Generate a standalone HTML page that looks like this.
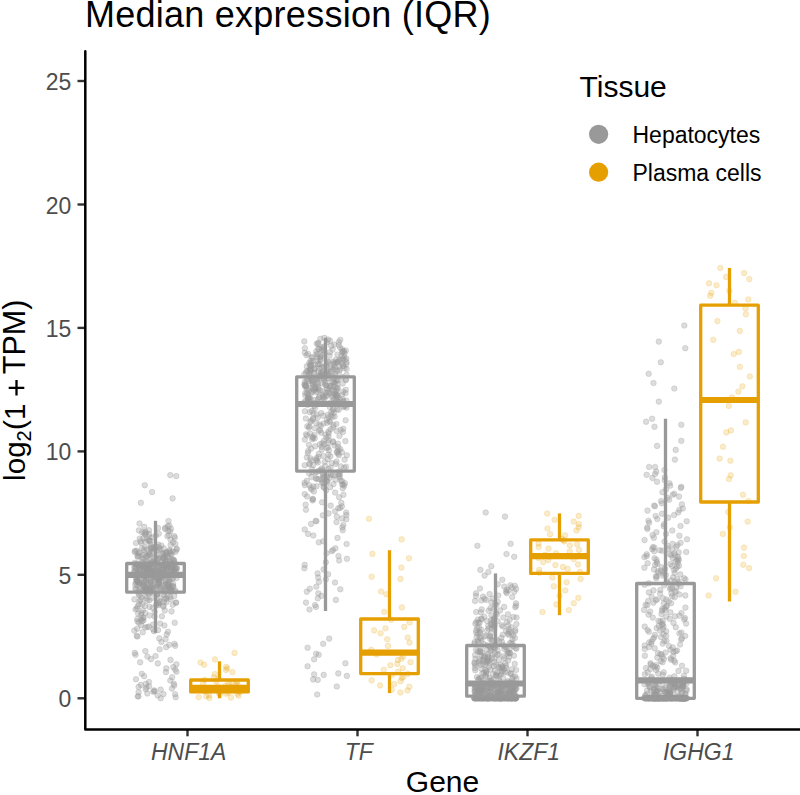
<!DOCTYPE html>
<html><head><meta charset="utf-8"><style>
html,body{margin:0;padding:0;background:#fff;}
svg{display:block;font-family:"Liberation Sans",sans-serif;}
</style></head><body>
<svg width="800" height="795" viewBox="0 0 800 795">
<defs><filter id="bl" x="-5%" y="-5%" width="110%" height="110%"><feGaussianBlur stdDeviation="0.6"/></filter></defs><rect width="800" height="795" fill="#fff"/>
<text x="85" y="27.3" font-size="36" letter-spacing="0.25" fill="#000">Median expression (IQR)</text>
<g fill="#999999" fill-opacity="0.34" stroke="#999999" stroke-opacity="0.34" stroke-width="0.8" filter="url(#bl)"><circle cx="160.7" cy="698.2" r="2.8"/><circle cx="175.7" cy="697.3" r="2.8"/><circle cx="137.8" cy="696.5" r="2.8"/><circle cx="138.4" cy="696.2" r="2.8"/><circle cx="157.7" cy="695.5" r="2.8"/><circle cx="175.1" cy="694.2" r="2.8"/><circle cx="163.5" cy="694.1" r="2.8"/><circle cx="147.3" cy="693.4" r="2.8"/><circle cx="138.6" cy="692.2" r="2.8"/><circle cx="153.3" cy="691.7" r="2.8"/><circle cx="154.7" cy="691.2" r="2.8"/><circle cx="154.1" cy="690.4" r="2.8"/><circle cx="160.6" cy="689.6" r="2.8"/><circle cx="145.7" cy="689.2" r="2.8"/><circle cx="171.9" cy="688.6" r="2.8"/><circle cx="146.4" cy="687.5" r="2.8"/><circle cx="138.6" cy="686.9" r="2.8"/><circle cx="149.0" cy="686.3" r="2.8"/><circle cx="174.2" cy="685.4" r="2.8"/><circle cx="140.9" cy="684.9" r="2.8"/><circle cx="145.9" cy="683.9" r="2.8"/><circle cx="173.8" cy="683.8" r="2.8"/><circle cx="149.0" cy="682.0" r="2.8"/><circle cx="170.3" cy="680.5" r="2.8"/><circle cx="136.0" cy="679.2" r="2.8"/><circle cx="172.2" cy="677.2" r="2.8"/><circle cx="144.2" cy="676.2" r="2.8"/><circle cx="141.8" cy="673.8" r="2.8"/><circle cx="165.9" cy="672.1" r="2.8"/><circle cx="176.5" cy="671.7" r="2.8"/><circle cx="175.2" cy="669.6" r="2.8"/><circle cx="166.3" cy="668.4" r="2.8"/><circle cx="173.3" cy="667.1" r="2.8"/><circle cx="176.4" cy="664.3" r="2.8"/><circle cx="157.8" cy="663.4" r="2.8"/><circle cx="140.2" cy="662.3" r="2.8"/><circle cx="170.5" cy="659.9" r="2.8"/><circle cx="151.0" cy="659.1" r="2.8"/><circle cx="147.4" cy="656.5" r="2.8"/><circle cx="155.5" cy="656.0" r="2.8"/><circle cx="135.5" cy="654.7" r="2.8"/><circle cx="134.8" cy="652.9" r="2.8"/><circle cx="145.4" cy="651.1" r="2.8"/><circle cx="159.6" cy="649.3" r="2.8"/><circle cx="166.2" cy="647.1" r="2.8"/><circle cx="175.2" cy="645.8" r="2.8"/><circle cx="169.2" cy="644.8" r="2.8"/><circle cx="174.5" cy="643.8" r="2.8"/><circle cx="161.4" cy="642.0" r="2.8"/><circle cx="165.6" cy="639.1" r="2.8"/><circle cx="159.3" cy="638.4" r="2.8"/><circle cx="137.5" cy="636.5" r="2.8"/><circle cx="136.7" cy="635.9" r="2.8"/><circle cx="166.7" cy="634.4" r="2.8"/><circle cx="142.7" cy="632.3" r="2.8"/><circle cx="168.0" cy="631.8" r="2.8"/><circle cx="154.0" cy="631.3" r="2.8"/><circle cx="134.3" cy="630.6" r="2.8"/><circle cx="158.1" cy="630.1" r="2.8"/><circle cx="153.1" cy="629.3" r="2.8"/><circle cx="137.2" cy="628.7" r="2.8"/><circle cx="145.2" cy="627.5" r="2.8"/><circle cx="147.2" cy="627.1" r="2.8"/><circle cx="148.9" cy="626.6" r="2.8"/><circle cx="164.4" cy="625.5" r="2.8"/><circle cx="141.2" cy="625.2" r="2.8"/><circle cx="153.1" cy="624.6" r="2.8"/><circle cx="160.1" cy="623.6" r="2.8"/><circle cx="174.7" cy="622.7" r="2.8"/><circle cx="138.9" cy="622.6" r="2.8"/><circle cx="137.4" cy="621.4" r="2.8"/><circle cx="142.2" cy="621.1" r="2.8"/><circle cx="143.5" cy="620.5" r="2.8"/><circle cx="141.0" cy="619.8" r="2.8"/><circle cx="137.3" cy="619.0" r="2.8"/><circle cx="143.0" cy="618.0" r="2.8"/><circle cx="143.6" cy="617.5" r="2.8"/><circle cx="154.6" cy="616.5" r="2.8"/><circle cx="161.9" cy="616.3" r="2.8"/><circle cx="149.6" cy="615.5" r="2.8"/><circle cx="141.2" cy="614.9" r="2.8"/><circle cx="138.1" cy="613.7" r="2.8"/><circle cx="145.3" cy="613.0" r="2.8"/><circle cx="141.3" cy="612.8" r="2.8"/><circle cx="154.7" cy="612.0" r="2.8"/><circle cx="171.5" cy="611.4" r="2.8"/><circle cx="164.8" cy="610.4" r="2.8"/><circle cx="142.7" cy="610.2" r="2.8"/><circle cx="135.5" cy="609.5" r="2.8"/><circle cx="136.9" cy="608.6" r="2.8"/><circle cx="152.7" cy="608.0" r="2.8"/><circle cx="149.6" cy="606.9" r="2.8"/><circle cx="163.3" cy="606.6" r="2.8"/><circle cx="137.6" cy="606.4" r="2.8"/><circle cx="144.9" cy="606.0" r="2.8"/><circle cx="163.5" cy="605.6" r="2.8"/><circle cx="158.4" cy="605.2" r="2.8"/><circle cx="156.2" cy="604.9" r="2.8"/><circle cx="172.8" cy="604.8" r="2.8"/><circle cx="138.9" cy="604.3" r="2.8"/><circle cx="142.4" cy="604.1" r="2.8"/><circle cx="158.3" cy="603.6" r="2.8"/><circle cx="158.3" cy="603.2" r="2.8"/><circle cx="176.1" cy="602.8" r="2.8"/><circle cx="176.0" cy="602.5" r="2.8"/><circle cx="159.3" cy="602.4" r="2.8"/><circle cx="166.6" cy="602.0" r="2.8"/><circle cx="164.0" cy="601.7" r="2.8"/><circle cx="139.7" cy="601.1" r="2.8"/><circle cx="159.9" cy="601.0" r="2.8"/><circle cx="147.1" cy="600.6" r="2.8"/><circle cx="149.4" cy="600.2" r="2.8"/><circle cx="140.7" cy="600.0" r="2.8"/><circle cx="134.4" cy="599.4" r="2.8"/><circle cx="170.7" cy="599.1" r="2.8"/><circle cx="164.8" cy="598.9" r="2.8"/><circle cx="166.3" cy="598.5" r="2.8"/><circle cx="146.4" cy="598.3" r="2.8"/><circle cx="151.9" cy="597.8" r="2.8"/><circle cx="141.6" cy="597.5" r="2.8"/><circle cx="159.9" cy="597.3" r="2.8"/><circle cx="170.1" cy="596.9" r="2.8"/><circle cx="167.5" cy="596.4" r="2.8"/><circle cx="174.2" cy="596.0" r="2.8"/><circle cx="145.2" cy="595.8" r="2.8"/><circle cx="164.2" cy="595.3" r="2.8"/><circle cx="139.4" cy="595.1" r="2.8"/><circle cx="157.1" cy="594.8" r="2.8"/><circle cx="138.7" cy="594.4" r="2.8"/><circle cx="157.2" cy="594.1" r="2.8"/><circle cx="157.3" cy="593.5" r="2.8"/><circle cx="148.9" cy="593.5" r="2.8"/><circle cx="149.0" cy="593.1" r="2.8"/><circle cx="164.6" cy="592.6" r="2.8"/><circle cx="154.7" cy="592.2" r="2.8"/><circle cx="151.5" cy="592.0" r="2.8"/><circle cx="138.8" cy="591.9" r="2.8"/><circle cx="146.1" cy="591.9" r="2.8"/><circle cx="170.4" cy="591.6" r="2.8"/><circle cx="175.8" cy="591.5" r="2.8"/><circle cx="150.0" cy="591.5" r="2.8"/><circle cx="171.4" cy="591.3" r="2.8"/><circle cx="171.6" cy="591.2" r="2.8"/><circle cx="143.4" cy="591.0" r="2.8"/><circle cx="145.8" cy="590.9" r="2.8"/><circle cx="163.9" cy="590.8" r="2.8"/><circle cx="147.2" cy="590.6" r="2.8"/><circle cx="175.1" cy="590.6" r="2.8"/><circle cx="149.7" cy="590.4" r="2.8"/><circle cx="165.4" cy="590.3" r="2.8"/><circle cx="164.4" cy="590.2" r="2.8"/><circle cx="143.2" cy="590.0" r="2.8"/><circle cx="171.2" cy="589.9" r="2.8"/><circle cx="148.1" cy="589.8" r="2.8"/><circle cx="138.7" cy="589.6" r="2.8"/><circle cx="136.2" cy="589.5" r="2.8"/><circle cx="153.4" cy="589.4" r="2.8"/><circle cx="161.2" cy="589.2" r="2.8"/><circle cx="145.7" cy="589.1" r="2.8"/><circle cx="170.2" cy="589.0" r="2.8"/><circle cx="145.5" cy="588.9" r="2.8"/><circle cx="170.4" cy="588.7" r="2.8"/><circle cx="135.4" cy="588.6" r="2.8"/><circle cx="145.3" cy="588.5" r="2.8"/><circle cx="140.9" cy="588.3" r="2.8"/><circle cx="153.3" cy="588.2" r="2.8"/><circle cx="149.1" cy="588.1" r="2.8"/><circle cx="151.0" cy="587.9" r="2.8"/><circle cx="170.6" cy="587.9" r="2.8"/><circle cx="158.9" cy="587.7" r="2.8"/><circle cx="160.0" cy="587.6" r="2.8"/><circle cx="150.8" cy="587.5" r="2.8"/><circle cx="168.7" cy="587.4" r="2.8"/><circle cx="155.6" cy="587.2" r="2.8"/><circle cx="166.1" cy="587.0" r="2.8"/><circle cx="173.3" cy="586.9" r="2.8"/><circle cx="160.3" cy="586.8" r="2.8"/><circle cx="152.7" cy="586.7" r="2.8"/><circle cx="145.3" cy="586.6" r="2.8"/><circle cx="173.2" cy="586.4" r="2.8"/><circle cx="166.9" cy="586.3" r="2.8"/><circle cx="168.4" cy="586.1" r="2.8"/><circle cx="143.5" cy="586.1" r="2.8"/><circle cx="152.8" cy="586.0" r="2.8"/><circle cx="172.0" cy="585.7" r="2.8"/><circle cx="144.6" cy="585.6" r="2.8"/><circle cx="169.0" cy="585.5" r="2.8"/><circle cx="157.2" cy="585.4" r="2.8"/><circle cx="143.4" cy="585.2" r="2.8"/><circle cx="150.1" cy="585.2" r="2.8"/><circle cx="137.3" cy="585.0" r="2.8"/><circle cx="162.9" cy="585.0" r="2.8"/><circle cx="165.3" cy="584.8" r="2.8"/><circle cx="135.2" cy="584.6" r="2.8"/><circle cx="147.0" cy="584.5" r="2.8"/><circle cx="167.1" cy="584.3" r="2.8"/><circle cx="142.6" cy="584.3" r="2.8"/><circle cx="157.1" cy="584.1" r="2.8"/><circle cx="168.7" cy="584.1" r="2.8"/><circle cx="158.5" cy="583.8" r="2.8"/><circle cx="139.3" cy="583.8" r="2.8"/><circle cx="173.1" cy="583.7" r="2.8"/><circle cx="166.1" cy="583.5" r="2.8"/><circle cx="158.3" cy="583.4" r="2.8"/><circle cx="148.3" cy="583.2" r="2.8"/><circle cx="159.0" cy="583.1" r="2.8"/><circle cx="150.8" cy="583.0" r="2.8"/><circle cx="139.1" cy="582.8" r="2.8"/><circle cx="139.3" cy="582.7" r="2.8"/><circle cx="135.9" cy="582.6" r="2.8"/><circle cx="141.3" cy="582.5" r="2.8"/><circle cx="144.6" cy="582.4" r="2.8"/><circle cx="161.3" cy="582.2" r="2.8"/><circle cx="158.9" cy="582.0" r="2.8"/><circle cx="159.4" cy="582.0" r="2.8"/><circle cx="169.3" cy="581.9" r="2.8"/><circle cx="138.1" cy="581.8" r="2.8"/><circle cx="150.7" cy="581.6" r="2.8"/><circle cx="137.4" cy="581.4" r="2.8"/><circle cx="152.0" cy="581.4" r="2.8"/><circle cx="137.4" cy="581.1" r="2.8"/><circle cx="136.9" cy="581.1" r="2.8"/><circle cx="138.5" cy="581.0" r="2.8"/><circle cx="150.8" cy="580.8" r="2.8"/><circle cx="166.8" cy="580.7" r="2.8"/><circle cx="146.1" cy="580.5" r="2.8"/><circle cx="165.9" cy="580.4" r="2.8"/><circle cx="144.0" cy="580.3" r="2.8"/><circle cx="146.4" cy="580.2" r="2.8"/><circle cx="154.3" cy="580.0" r="2.8"/><circle cx="137.2" cy="579.9" r="2.8"/><circle cx="153.3" cy="579.8" r="2.8"/><circle cx="159.1" cy="579.7" r="2.8"/><circle cx="169.5" cy="579.5" r="2.8"/><circle cx="136.4" cy="579.3" r="2.8"/><circle cx="168.4" cy="579.3" r="2.8"/><circle cx="158.5" cy="579.2" r="2.8"/><circle cx="158.9" cy="579.0" r="2.8"/><circle cx="136.2" cy="578.9" r="2.8"/><circle cx="171.8" cy="578.8" r="2.8"/><circle cx="145.9" cy="578.7" r="2.8"/><circle cx="157.5" cy="578.5" r="2.8"/><circle cx="157.2" cy="578.4" r="2.8"/><circle cx="173.1" cy="578.2" r="2.8"/><circle cx="159.9" cy="578.1" r="2.8"/><circle cx="176.6" cy="578.0" r="2.8"/><circle cx="144.0" cy="577.9" r="2.8"/><circle cx="162.5" cy="577.7" r="2.8"/><circle cx="158.8" cy="577.6" r="2.8"/><circle cx="156.1" cy="577.4" r="2.8"/><circle cx="161.0" cy="577.4" r="2.8"/><circle cx="157.7" cy="577.2" r="2.8"/><circle cx="148.5" cy="577.0" r="2.8"/><circle cx="161.6" cy="577.0" r="2.8"/><circle cx="137.6" cy="576.8" r="2.8"/><circle cx="154.6" cy="576.7" r="2.8"/><circle cx="153.5" cy="576.6" r="2.8"/><circle cx="143.2" cy="576.4" r="2.8"/><circle cx="158.4" cy="576.4" r="2.8"/><circle cx="162.8" cy="576.2" r="2.8"/><circle cx="139.4" cy="576.0" r="2.8"/><circle cx="146.8" cy="575.9" r="2.8"/><circle cx="136.7" cy="575.8" r="2.8"/><circle cx="159.7" cy="575.7" r="2.8"/><circle cx="137.5" cy="575.5" r="2.8"/><circle cx="143.9" cy="575.4" r="2.8"/><circle cx="153.3" cy="575.2" r="2.8"/><circle cx="153.4" cy="575.2" r="2.8"/><circle cx="135.4" cy="575.0" r="2.8"/><circle cx="174.7" cy="574.9" r="2.8"/><circle cx="143.9" cy="574.8" r="2.8"/><circle cx="160.2" cy="574.7" r="2.8"/><circle cx="143.6" cy="574.6" r="2.8"/><circle cx="159.6" cy="574.6" r="2.8"/><circle cx="149.2" cy="574.5" r="2.8"/><circle cx="147.7" cy="574.4" r="2.8"/><circle cx="154.4" cy="574.3" r="2.8"/><circle cx="159.2" cy="574.2" r="2.8"/><circle cx="159.7" cy="574.2" r="2.8"/><circle cx="163.6" cy="574.1" r="2.8"/><circle cx="145.5" cy="574.0" r="2.8"/><circle cx="137.9" cy="573.8" r="2.8"/><circle cx="144.9" cy="573.8" r="2.8"/><circle cx="148.0" cy="573.7" r="2.8"/><circle cx="160.1" cy="573.7" r="2.8"/><circle cx="151.8" cy="573.5" r="2.8"/><circle cx="147.4" cy="573.5" r="2.8"/><circle cx="138.2" cy="573.4" r="2.8"/><circle cx="159.7" cy="573.3" r="2.8"/><circle cx="138.7" cy="573.2" r="2.8"/><circle cx="156.2" cy="573.1" r="2.8"/><circle cx="163.6" cy="573.0" r="2.8"/><circle cx="160.8" cy="572.9" r="2.8"/><circle cx="140.9" cy="572.8" r="2.8"/><circle cx="149.3" cy="572.7" r="2.8"/><circle cx="174.5" cy="572.7" r="2.8"/><circle cx="137.9" cy="572.6" r="2.8"/><circle cx="163.2" cy="572.5" r="2.8"/><circle cx="152.8" cy="572.5" r="2.8"/><circle cx="160.4" cy="572.4" r="2.8"/><circle cx="150.9" cy="572.3" r="2.8"/><circle cx="139.3" cy="572.2" r="2.8"/><circle cx="158.2" cy="572.1" r="2.8"/><circle cx="134.3" cy="572.1" r="2.8"/><circle cx="171.2" cy="571.9" r="2.8"/><circle cx="168.3" cy="571.8" r="2.8"/><circle cx="150.1" cy="571.8" r="2.8"/><circle cx="157.1" cy="571.7" r="2.8"/><circle cx="156.7" cy="571.6" r="2.8"/><circle cx="176.1" cy="571.6" r="2.8"/><circle cx="135.9" cy="571.5" r="2.8"/><circle cx="146.8" cy="571.3" r="2.8"/><circle cx="151.5" cy="571.3" r="2.8"/><circle cx="167.9" cy="571.2" r="2.8"/><circle cx="165.4" cy="571.1" r="2.8"/><circle cx="152.2" cy="571.0" r="2.8"/><circle cx="134.5" cy="571.0" r="2.8"/><circle cx="161.9" cy="570.9" r="2.8"/><circle cx="151.5" cy="570.8" r="2.8"/><circle cx="139.0" cy="570.7" r="2.8"/><circle cx="161.1" cy="570.6" r="2.8"/><circle cx="153.1" cy="570.5" r="2.8"/><circle cx="147.2" cy="570.4" r="2.8"/><circle cx="145.6" cy="570.4" r="2.8"/><circle cx="156.4" cy="570.3" r="2.8"/><circle cx="144.6" cy="570.1" r="2.8"/><circle cx="150.9" cy="570.1" r="2.8"/><circle cx="174.5" cy="570.0" r="2.8"/><circle cx="154.5" cy="569.9" r="2.8"/><circle cx="144.9" cy="569.9" r="2.8"/><circle cx="156.4" cy="569.8" r="2.8"/><circle cx="173.4" cy="569.7" r="2.8"/><circle cx="171.2" cy="569.6" r="2.8"/><circle cx="163.1" cy="569.5" r="2.8"/><circle cx="172.7" cy="569.4" r="2.8"/><circle cx="166.5" cy="569.3" r="2.8"/><circle cx="163.2" cy="569.2" r="2.8"/><circle cx="152.4" cy="569.1" r="2.8"/><circle cx="140.4" cy="569.1" r="2.8"/><circle cx="165.5" cy="569.0" r="2.8"/><circle cx="161.3" cy="568.9" r="2.8"/><circle cx="175.6" cy="568.9" r="2.8"/><circle cx="147.8" cy="568.7" r="2.8"/><circle cx="171.7" cy="568.6" r="2.8"/><circle cx="143.4" cy="568.5" r="2.8"/><circle cx="174.7" cy="568.5" r="2.8"/><circle cx="176.8" cy="568.4" r="2.8"/><circle cx="136.0" cy="568.4" r="2.8"/><circle cx="148.0" cy="568.3" r="2.8"/><circle cx="176.9" cy="568.2" r="2.8"/><circle cx="175.6" cy="568.1" r="2.8"/><circle cx="162.8" cy="568.0" r="2.8"/><circle cx="139.8" cy="567.9" r="2.8"/><circle cx="134.3" cy="567.8" r="2.8"/><circle cx="144.7" cy="567.7" r="2.8"/><circle cx="174.6" cy="567.7" r="2.8"/><circle cx="168.6" cy="567.5" r="2.8"/><circle cx="152.4" cy="567.5" r="2.8"/><circle cx="166.7" cy="567.4" r="2.8"/><circle cx="172.8" cy="567.3" r="2.8"/><circle cx="146.9" cy="567.2" r="2.8"/><circle cx="171.6" cy="567.2" r="2.8"/><circle cx="145.6" cy="567.1" r="2.8"/><circle cx="148.1" cy="566.9" r="2.8"/><circle cx="135.9" cy="566.9" r="2.8"/><circle cx="140.9" cy="566.8" r="2.8"/><circle cx="157.7" cy="566.7" r="2.8"/><circle cx="135.0" cy="566.7" r="2.8"/><circle cx="157.5" cy="566.5" r="2.8"/><circle cx="141.3" cy="566.5" r="2.8"/><circle cx="166.2" cy="566.3" r="2.8"/><circle cx="139.5" cy="566.3" r="2.8"/><circle cx="142.9" cy="566.2" r="2.8"/><circle cx="145.6" cy="566.1" r="2.8"/><circle cx="159.1" cy="566.1" r="2.8"/><circle cx="168.8" cy="566.0" r="2.8"/><circle cx="166.4" cy="565.9" r="2.8"/><circle cx="165.9" cy="565.8" r="2.8"/><circle cx="163.3" cy="565.8" r="2.8"/><circle cx="157.4" cy="565.7" r="2.8"/><circle cx="148.7" cy="565.5" r="2.8"/><circle cx="141.7" cy="565.5" r="2.8"/><circle cx="171.1" cy="565.4" r="2.8"/><circle cx="151.6" cy="565.3" r="2.8"/><circle cx="162.0" cy="565.2" r="2.8"/><circle cx="136.9" cy="565.1" r="2.8"/><circle cx="149.5" cy="565.0" r="2.8"/><circle cx="138.3" cy="564.9" r="2.8"/><circle cx="149.2" cy="564.8" r="2.8"/><circle cx="165.5" cy="564.8" r="2.8"/><circle cx="148.7" cy="564.7" r="2.8"/><circle cx="163.3" cy="564.6" r="2.8"/><circle cx="139.3" cy="564.5" r="2.8"/><circle cx="150.6" cy="564.4" r="2.8"/><circle cx="151.6" cy="564.3" r="2.8"/><circle cx="155.9" cy="564.3" r="2.8"/><circle cx="143.8" cy="564.2" r="2.8"/><circle cx="164.0" cy="564.1" r="2.8"/><circle cx="171.9" cy="564.0" r="2.8"/><circle cx="168.9" cy="563.9" r="2.8"/><circle cx="135.3" cy="563.9" r="2.8"/><circle cx="155.0" cy="563.8" r="2.8"/><circle cx="148.8" cy="563.7" r="2.8"/><circle cx="158.6" cy="563.6" r="2.8"/><circle cx="137.6" cy="563.5" r="2.8"/><circle cx="165.4" cy="563.4" r="2.8"/><circle cx="151.9" cy="563.1" r="2.8"/><circle cx="174.6" cy="562.9" r="2.8"/><circle cx="134.8" cy="562.7" r="2.8"/><circle cx="152.0" cy="562.6" r="2.8"/><circle cx="154.9" cy="562.4" r="2.8"/><circle cx="169.7" cy="562.1" r="2.8"/><circle cx="166.5" cy="562.0" r="2.8"/><circle cx="141.8" cy="561.7" r="2.8"/><circle cx="147.2" cy="561.7" r="2.8"/><circle cx="165.6" cy="561.4" r="2.8"/><circle cx="152.0" cy="561.2" r="2.8"/><circle cx="145.3" cy="561.0" r="2.8"/><circle cx="174.0" cy="560.8" r="2.8"/><circle cx="170.3" cy="560.7" r="2.8"/><circle cx="149.3" cy="560.4" r="2.8"/><circle cx="157.6" cy="560.2" r="2.8"/><circle cx="174.0" cy="560.1" r="2.8"/><circle cx="143.3" cy="559.8" r="2.8"/><circle cx="173.1" cy="559.7" r="2.8"/><circle cx="172.0" cy="559.4" r="2.8"/><circle cx="165.2" cy="559.3" r="2.8"/><circle cx="163.5" cy="559.1" r="2.8"/><circle cx="163.5" cy="558.9" r="2.8"/><circle cx="157.4" cy="558.7" r="2.8"/><circle cx="159.0" cy="558.5" r="2.8"/><circle cx="142.5" cy="558.3" r="2.8"/><circle cx="158.2" cy="558.1" r="2.8"/><circle cx="162.9" cy="557.9" r="2.8"/><circle cx="154.9" cy="557.7" r="2.8"/><circle cx="163.2" cy="557.4" r="2.8"/><circle cx="153.7" cy="557.3" r="2.8"/><circle cx="168.5" cy="557.1" r="2.8"/><circle cx="165.0" cy="557.0" r="2.8"/><circle cx="137.8" cy="556.8" r="2.8"/><circle cx="167.1" cy="556.5" r="2.8"/><circle cx="146.2" cy="556.4" r="2.8"/><circle cx="137.5" cy="556.1" r="2.8"/><circle cx="139.2" cy="555.9" r="2.8"/><circle cx="147.9" cy="555.7" r="2.8"/><circle cx="156.6" cy="555.6" r="2.8"/><circle cx="148.2" cy="555.3" r="2.8"/><circle cx="142.7" cy="555.1" r="2.8"/><circle cx="167.1" cy="555.0" r="2.8"/><circle cx="150.1" cy="554.8" r="2.8"/><circle cx="171.6" cy="554.6" r="2.8"/><circle cx="144.5" cy="554.4" r="2.8"/><circle cx="163.7" cy="554.2" r="2.8"/><circle cx="149.4" cy="554.1" r="2.8"/><circle cx="170.5" cy="553.9" r="2.8"/><circle cx="161.8" cy="553.6" r="2.8"/><circle cx="163.2" cy="553.4" r="2.8"/><circle cx="138.0" cy="553.2" r="2.8"/><circle cx="166.3" cy="553.1" r="2.8"/><circle cx="149.2" cy="552.8" r="2.8"/><circle cx="165.8" cy="552.6" r="2.8"/><circle cx="170.3" cy="552.4" r="2.8"/><circle cx="139.3" cy="552.2" r="2.8"/><circle cx="134.7" cy="552.1" r="2.8"/><circle cx="166.6" cy="551.9" r="2.8"/><circle cx="175.6" cy="551.7" r="2.8"/><circle cx="172.7" cy="551.5" r="2.8"/><circle cx="152.7" cy="551.4" r="2.8"/><circle cx="169.8" cy="551.2" r="2.8"/><circle cx="135.0" cy="551.0" r="2.8"/><circle cx="136.5" cy="550.6" r="2.8"/><circle cx="159.0" cy="550.5" r="2.8"/><circle cx="156.7" cy="550.3" r="2.8"/><circle cx="169.5" cy="550.1" r="2.8"/><circle cx="144.0" cy="549.9" r="2.8"/><circle cx="153.9" cy="549.7" r="2.8"/><circle cx="176.5" cy="549.6" r="2.8"/><circle cx="147.0" cy="549.3" r="2.8"/><circle cx="151.4" cy="549.2" r="2.8"/><circle cx="160.1" cy="549.0" r="2.8"/><circle cx="176.8" cy="548.8" r="2.8"/><circle cx="141.9" cy="548.6" r="2.8"/><circle cx="163.7" cy="548.4" r="2.8"/><circle cx="151.8" cy="548.2" r="2.8"/><circle cx="151.2" cy="548.0" r="2.8"/><circle cx="145.0" cy="547.8" r="2.8"/><circle cx="154.0" cy="547.3" r="2.8"/><circle cx="158.7" cy="547.2" r="2.8"/><circle cx="150.9" cy="546.8" r="2.8"/><circle cx="155.7" cy="546.3" r="2.8"/><circle cx="161.3" cy="545.5" r="2.8"/><circle cx="170.6" cy="545.1" r="2.8"/><circle cx="158.1" cy="544.6" r="2.8"/><circle cx="150.5" cy="544.0" r="2.8"/><circle cx="175.3" cy="543.9" r="2.8"/><circle cx="141.4" cy="543.2" r="2.8"/><circle cx="136.0" cy="543.0" r="2.8"/><circle cx="173.1" cy="542.4" r="2.8"/><circle cx="145.4" cy="541.9" r="2.8"/><circle cx="140.5" cy="541.4" r="2.8"/><circle cx="150.6" cy="541.2" r="2.8"/><circle cx="148.7" cy="540.6" r="2.8"/><circle cx="149.3" cy="540.4" r="2.8"/><circle cx="170.6" cy="539.8" r="2.8"/><circle cx="146.5" cy="539.0" r="2.8"/><circle cx="139.7" cy="538.6" r="2.8"/><circle cx="143.3" cy="538.3" r="2.8"/><circle cx="174.8" cy="537.7" r="2.8"/><circle cx="152.4" cy="537.2" r="2.8"/><circle cx="149.5" cy="537.0" r="2.8"/><circle cx="167.4" cy="536.3" r="2.8"/><circle cx="174.2" cy="536.1" r="2.8"/><circle cx="155.9" cy="535.7" r="2.8"/><circle cx="169.0" cy="535.1" r="2.8"/><circle cx="145.4" cy="534.6" r="2.8"/><circle cx="149.1" cy="534.1" r="2.8"/><circle cx="158.8" cy="533.7" r="2.8"/><circle cx="144.2" cy="533.5" r="2.8"/><circle cx="145.8" cy="532.8" r="2.8"/><circle cx="142.1" cy="532.2" r="2.8"/><circle cx="145.3" cy="531.8" r="2.8"/><circle cx="170.1" cy="531.2" r="2.8"/><circle cx="168.2" cy="531.0" r="2.8"/><circle cx="138.9" cy="530.4" r="2.8"/><circle cx="149.0" cy="530.2" r="2.8"/><circle cx="165.1" cy="529.1" r="2.8"/><circle cx="171.0" cy="528.8" r="2.8"/><circle cx="158.1" cy="528.0" r="2.8"/><circle cx="165.2" cy="527.7" r="2.8"/><circle cx="144.2" cy="526.9" r="2.8"/><circle cx="167.6" cy="526.2" r="2.8"/><circle cx="169.3" cy="525.6" r="2.8"/><circle cx="170.3" cy="475.1" r="2.8"/><circle cx="176.3" cy="476.1" r="2.8"/><circle cx="144.8" cy="485.2" r="2.8"/><circle cx="152.1" cy="492.1" r="2.8"/><circle cx="172.6" cy="498.4" r="2.8"/><circle cx="140.8" cy="502.8" r="2.8"/><circle cx="139.5" cy="523.5" r="2.8"/><circle cx="168.5" cy="521.0" r="2.8"/><circle cx="309.5" cy="609.5" r="2.8"/><circle cx="316.0" cy="607.0" r="2.8"/><circle cx="315.0" cy="605.1" r="2.8"/><circle cx="306.0" cy="602.6" r="2.8"/><circle cx="335.9" cy="599.9" r="2.8"/><circle cx="317.8" cy="598.3" r="2.8"/><circle cx="321.5" cy="595.8" r="2.8"/><circle cx="318.3" cy="593.4" r="2.8"/><circle cx="306.8" cy="591.7" r="2.8"/><circle cx="340.3" cy="589.3" r="2.8"/><circle cx="309.8" cy="588.7" r="2.8"/><circle cx="316.3" cy="586.6" r="2.8"/><circle cx="335.0" cy="582.5" r="2.8"/><circle cx="319.0" cy="581.8" r="2.8"/><circle cx="325.8" cy="579.5" r="2.8"/><circle cx="318.2" cy="577.6" r="2.8"/><circle cx="328.1" cy="574.3" r="2.8"/><circle cx="317.6" cy="573.4" r="2.8"/><circle cx="323.6" cy="569.4" r="2.8"/><circle cx="304.4" cy="568.2" r="2.8"/><circle cx="304.7" cy="564.9" r="2.8"/><circle cx="325.8" cy="562.2" r="2.8"/><circle cx="339.1" cy="560.5" r="2.8"/><circle cx="346.9" cy="558.8" r="2.8"/><circle cx="338.5" cy="556.0" r="2.8"/><circle cx="326.6" cy="553.2" r="2.8"/><circle cx="331.7" cy="551.3" r="2.8"/><circle cx="332.9" cy="550.0" r="2.8"/><circle cx="335.4" cy="548.3" r="2.8"/><circle cx="346.6" cy="544.0" r="2.8"/><circle cx="318.8" cy="542.3" r="2.8"/><circle cx="323.2" cy="541.3" r="2.8"/><circle cx="337.5" cy="537.9" r="2.8"/><circle cx="313.3" cy="535.5" r="2.8"/><circle cx="308.1" cy="533.9" r="2.8"/><circle cx="342.7" cy="530.3" r="2.8"/><circle cx="304.7" cy="529.5" r="2.8"/><circle cx="342.4" cy="527.4" r="2.8"/><circle cx="343.3" cy="525.1" r="2.8"/><circle cx="311.1" cy="523.9" r="2.8"/><circle cx="336.5" cy="522.1" r="2.8"/><circle cx="316.4" cy="521.3" r="2.8"/><circle cx="315.7" cy="520.7" r="2.8"/><circle cx="346.3" cy="519.3" r="2.8"/><circle cx="342.1" cy="518.4" r="2.8"/><circle cx="336.9" cy="516.6" r="2.8"/><circle cx="322.8" cy="515.3" r="2.8"/><circle cx="346.4" cy="515.0" r="2.8"/><circle cx="328.5" cy="513.4" r="2.8"/><circle cx="346.1" cy="512.5" r="2.8"/><circle cx="335.0" cy="511.3" r="2.8"/><circle cx="306.0" cy="509.7" r="2.8"/><circle cx="338.3" cy="508.2" r="2.8"/><circle cx="340.0" cy="507.9" r="2.8"/><circle cx="341.9" cy="506.4" r="2.8"/><circle cx="330.7" cy="505.6" r="2.8"/><circle cx="305.6" cy="504.7" r="2.8"/><circle cx="341.3" cy="502.9" r="2.8"/><circle cx="322.1" cy="502.3" r="2.8"/><circle cx="312.5" cy="500.5" r="2.8"/><circle cx="313.0" cy="499.3" r="2.8"/><circle cx="312.7" cy="498.9" r="2.8"/><circle cx="339.1" cy="497.2" r="2.8"/><circle cx="307.1" cy="496.5" r="2.8"/><circle cx="343.5" cy="494.7" r="2.8"/><circle cx="304.7" cy="494.1" r="2.8"/><circle cx="335.1" cy="492.5" r="2.8"/><circle cx="313.9" cy="491.4" r="2.8"/><circle cx="326.1" cy="490.3" r="2.8"/><circle cx="311.6" cy="489.6" r="2.8"/><circle cx="342.7" cy="488.2" r="2.8"/><circle cx="310.7" cy="488.0" r="2.8"/><circle cx="324.1" cy="487.5" r="2.8"/><circle cx="330.2" cy="487.3" r="2.8"/><circle cx="323.5" cy="486.9" r="2.8"/><circle cx="313.3" cy="486.5" r="2.8"/><circle cx="316.5" cy="486.3" r="2.8"/><circle cx="344.2" cy="485.8" r="2.8"/><circle cx="309.4" cy="485.5" r="2.8"/><circle cx="304.8" cy="485.1" r="2.8"/><circle cx="343.1" cy="484.7" r="2.8"/><circle cx="342.1" cy="484.3" r="2.8"/><circle cx="333.5" cy="484.1" r="2.8"/><circle cx="324.3" cy="483.8" r="2.8"/><circle cx="344.9" cy="483.2" r="2.8"/><circle cx="321.8" cy="483.0" r="2.8"/><circle cx="304.6" cy="482.7" r="2.8"/><circle cx="322.7" cy="482.2" r="2.8"/><circle cx="326.8" cy="482.0" r="2.8"/><circle cx="327.6" cy="481.4" r="2.8"/><circle cx="342.2" cy="481.2" r="2.8"/><circle cx="306.9" cy="480.8" r="2.8"/><circle cx="340.7" cy="480.6" r="2.8"/><circle cx="326.5" cy="480.1" r="2.8"/><circle cx="335.5" cy="479.7" r="2.8"/><circle cx="321.8" cy="479.4" r="2.8"/><circle cx="316.7" cy="479.0" r="2.8"/><circle cx="318.4" cy="478.9" r="2.8"/><circle cx="315.8" cy="478.3" r="2.8"/><circle cx="323.5" cy="477.9" r="2.8"/><circle cx="329.7" cy="477.7" r="2.8"/><circle cx="339.7" cy="477.5" r="2.8"/><circle cx="311.5" cy="477.0" r="2.8"/><circle cx="323.4" cy="476.7" r="2.8"/><circle cx="326.9" cy="476.4" r="2.8"/><circle cx="339.2" cy="475.8" r="2.8"/><circle cx="334.5" cy="475.4" r="2.8"/><circle cx="330.8" cy="475.2" r="2.8"/><circle cx="333.0" cy="474.8" r="2.8"/><circle cx="323.3" cy="474.4" r="2.8"/><circle cx="338.7" cy="474.2" r="2.8"/><circle cx="340.0" cy="473.9" r="2.8"/><circle cx="328.3" cy="473.5" r="2.8"/><circle cx="309.0" cy="473.1" r="2.8"/><circle cx="322.3" cy="472.7" r="2.8"/><circle cx="315.4" cy="472.4" r="2.8"/><circle cx="312.2" cy="472.2" r="2.8"/><circle cx="316.8" cy="471.7" r="2.8"/><circle cx="339.2" cy="471.4" r="2.8"/><circle cx="319.0" cy="470.7" r="2.8"/><circle cx="322.5" cy="470.5" r="2.8"/><circle cx="320.5" cy="469.9" r="2.8"/><circle cx="311.9" cy="469.4" r="2.8"/><circle cx="328.6" cy="469.0" r="2.8"/><circle cx="321.9" cy="468.4" r="2.8"/><circle cx="344.3" cy="467.9" r="2.8"/><circle cx="330.6" cy="467.6" r="2.8"/><circle cx="346.1" cy="466.7" r="2.8"/><circle cx="340.9" cy="466.4" r="2.8"/><circle cx="325.1" cy="466.1" r="2.8"/><circle cx="304.7" cy="465.2" r="2.8"/><circle cx="313.2" cy="465.1" r="2.8"/><circle cx="309.1" cy="464.3" r="2.8"/><circle cx="335.7" cy="463.9" r="2.8"/><circle cx="309.9" cy="463.5" r="2.8"/><circle cx="331.7" cy="463.0" r="2.8"/><circle cx="317.9" cy="462.4" r="2.8"/><circle cx="324.7" cy="462.0" r="2.8"/><circle cx="336.5" cy="461.6" r="2.8"/><circle cx="316.8" cy="461.0" r="2.8"/><circle cx="311.4" cy="460.5" r="2.8"/><circle cx="316.4" cy="459.9" r="2.8"/><circle cx="344.6" cy="459.6" r="2.8"/><circle cx="327.8" cy="459.2" r="2.8"/><circle cx="316.3" cy="458.3" r="2.8"/><circle cx="310.3" cy="458.2" r="2.8"/><circle cx="306.9" cy="457.4" r="2.8"/><circle cx="318.4" cy="456.9" r="2.8"/><circle cx="330.4" cy="456.2" r="2.8"/><circle cx="323.6" cy="456.1" r="2.8"/><circle cx="338.9" cy="455.3" r="2.8"/><circle cx="346.8" cy="455.2" r="2.8"/><circle cx="328.5" cy="454.6" r="2.8"/><circle cx="318.8" cy="453.9" r="2.8"/><circle cx="338.2" cy="453.7" r="2.8"/><circle cx="307.8" cy="453.0" r="2.8"/><circle cx="336.7" cy="452.4" r="2.8"/><circle cx="341.9" cy="452.2" r="2.8"/><circle cx="337.4" cy="451.4" r="2.8"/><circle cx="308.2" cy="451.0" r="2.8"/><circle cx="329.0" cy="450.3" r="2.8"/><circle cx="338.5" cy="450.3" r="2.8"/><circle cx="321.7" cy="449.7" r="2.8"/><circle cx="340.3" cy="449.0" r="2.8"/><circle cx="311.1" cy="448.6" r="2.8"/><circle cx="326.7" cy="448.1" r="2.8"/><circle cx="328.0" cy="447.3" r="2.8"/><circle cx="337.9" cy="447.1" r="2.8"/><circle cx="321.7" cy="446.8" r="2.8"/><circle cx="315.1" cy="446.2" r="2.8"/><circle cx="334.6" cy="445.5" r="2.8"/><circle cx="308.9" cy="444.9" r="2.8"/><circle cx="319.8" cy="444.4" r="2.8"/><circle cx="324.1" cy="444.1" r="2.8"/><circle cx="337.9" cy="443.7" r="2.8"/><circle cx="322.3" cy="443.2" r="2.8"/><circle cx="328.2" cy="442.7" r="2.8"/><circle cx="333.2" cy="442.2" r="2.8"/><circle cx="333.0" cy="441.4" r="2.8"/><circle cx="345.4" cy="441.1" r="2.8"/><circle cx="323.9" cy="440.8" r="2.8"/><circle cx="328.6" cy="440.0" r="2.8"/><circle cx="304.8" cy="439.6" r="2.8"/><circle cx="312.2" cy="439.3" r="2.8"/><circle cx="314.7" cy="438.4" r="2.8"/><circle cx="313.1" cy="437.9" r="2.8"/><circle cx="326.3" cy="437.7" r="2.8"/><circle cx="312.6" cy="436.9" r="2.8"/><circle cx="328.5" cy="436.6" r="2.8"/><circle cx="339.5" cy="436.0" r="2.8"/><circle cx="307.1" cy="435.5" r="2.8"/><circle cx="314.4" cy="435.0" r="2.8"/><circle cx="325.4" cy="434.6" r="2.8"/><circle cx="306.0" cy="434.3" r="2.8"/><circle cx="310.2" cy="433.5" r="2.8"/><circle cx="328.7" cy="433.2" r="2.8"/><circle cx="321.2" cy="432.7" r="2.8"/><circle cx="342.9" cy="432.0" r="2.8"/><circle cx="328.5" cy="431.5" r="2.8"/><circle cx="336.6" cy="430.9" r="2.8"/><circle cx="318.9" cy="430.7" r="2.8"/><circle cx="320.2" cy="430.1" r="2.8"/><circle cx="340.7" cy="429.9" r="2.8"/><circle cx="330.5" cy="429.3" r="2.8"/><circle cx="343.3" cy="428.8" r="2.8"/><circle cx="314.9" cy="428.3" r="2.8"/><circle cx="308.9" cy="427.7" r="2.8"/><circle cx="333.1" cy="427.3" r="2.8"/><circle cx="309.4" cy="426.5" r="2.8"/><circle cx="307.3" cy="426.2" r="2.8"/><circle cx="320.8" cy="425.7" r="2.8"/><circle cx="333.5" cy="425.0" r="2.8"/><circle cx="319.5" cy="424.5" r="2.8"/><circle cx="336.4" cy="424.0" r="2.8"/><circle cx="323.6" cy="423.5" r="2.8"/><circle cx="316.3" cy="423.1" r="2.8"/><circle cx="327.0" cy="422.8" r="2.8"/><circle cx="330.0" cy="422.0" r="2.8"/><circle cx="310.4" cy="421.9" r="2.8"/><circle cx="329.4" cy="421.0" r="2.8"/><circle cx="311.2" cy="420.7" r="2.8"/><circle cx="345.6" cy="420.3" r="2.8"/><circle cx="326.9" cy="419.7" r="2.8"/><circle cx="312.8" cy="419.3" r="2.8"/><circle cx="305.8" cy="418.5" r="2.8"/><circle cx="313.2" cy="418.1" r="2.8"/><circle cx="317.7" cy="417.6" r="2.8"/><circle cx="328.7" cy="417.4" r="2.8"/><circle cx="332.5" cy="416.8" r="2.8"/><circle cx="334.6" cy="416.4" r="2.8"/><circle cx="323.0" cy="415.6" r="2.8"/><circle cx="331.1" cy="415.5" r="2.8"/><circle cx="327.8" cy="414.8" r="2.8"/><circle cx="316.7" cy="414.4" r="2.8"/><circle cx="313.4" cy="413.6" r="2.8"/><circle cx="321.2" cy="413.0" r="2.8"/><circle cx="333.7" cy="412.9" r="2.8"/><circle cx="309.8" cy="412.1" r="2.8"/><circle cx="331.3" cy="411.9" r="2.8"/><circle cx="304.9" cy="411.2" r="2.8"/><circle cx="311.9" cy="410.9" r="2.8"/><circle cx="332.8" cy="410.3" r="2.8"/><circle cx="338.7" cy="409.7" r="2.8"/><circle cx="337.0" cy="409.4" r="2.8"/><circle cx="333.4" cy="408.9" r="2.8"/><circle cx="314.9" cy="408.2" r="2.8"/><circle cx="346.5" cy="407.6" r="2.8"/><circle cx="329.8" cy="407.0" r="2.8"/><circle cx="343.1" cy="406.9" r="2.8"/><circle cx="344.3" cy="406.4" r="2.8"/><circle cx="314.3" cy="406.0" r="2.8"/><circle cx="345.7" cy="405.5" r="2.8"/><circle cx="307.5" cy="405.0" r="2.8"/><circle cx="331.4" cy="404.4" r="2.8"/><circle cx="315.0" cy="403.9" r="2.8"/><circle cx="308.0" cy="403.8" r="2.8"/><circle cx="328.5" cy="403.5" r="2.8"/><circle cx="313.1" cy="403.4" r="2.8"/><circle cx="337.8" cy="403.2" r="2.8"/><circle cx="323.8" cy="402.9" r="2.8"/><circle cx="315.6" cy="402.7" r="2.8"/><circle cx="304.5" cy="402.5" r="2.8"/><circle cx="333.8" cy="402.4" r="2.8"/><circle cx="331.4" cy="402.1" r="2.8"/><circle cx="338.6" cy="401.8" r="2.8"/><circle cx="320.5" cy="401.8" r="2.8"/><circle cx="343.3" cy="401.6" r="2.8"/><circle cx="305.0" cy="401.3" r="2.8"/><circle cx="343.5" cy="401.1" r="2.8"/><circle cx="336.9" cy="400.9" r="2.8"/><circle cx="308.4" cy="400.6" r="2.8"/><circle cx="346.4" cy="400.5" r="2.8"/><circle cx="307.9" cy="400.2" r="2.8"/><circle cx="336.3" cy="400.1" r="2.8"/><circle cx="314.5" cy="400.0" r="2.8"/><circle cx="333.7" cy="399.7" r="2.8"/><circle cx="340.0" cy="399.6" r="2.8"/><circle cx="309.1" cy="399.3" r="2.8"/><circle cx="318.0" cy="399.0" r="2.8"/><circle cx="342.5" cy="399.0" r="2.8"/><circle cx="324.5" cy="398.8" r="2.8"/><circle cx="310.6" cy="398.6" r="2.8"/><circle cx="307.7" cy="398.3" r="2.8"/><circle cx="309.3" cy="398.1" r="2.8"/><circle cx="308.5" cy="397.8" r="2.8"/><circle cx="319.3" cy="397.6" r="2.8"/><circle cx="337.4" cy="397.4" r="2.8"/><circle cx="323.5" cy="397.3" r="2.8"/><circle cx="308.2" cy="397.0" r="2.8"/><circle cx="319.2" cy="396.8" r="2.8"/><circle cx="324.8" cy="396.7" r="2.8"/><circle cx="323.3" cy="396.4" r="2.8"/><circle cx="331.6" cy="396.3" r="2.8"/><circle cx="333.3" cy="396.1" r="2.8"/><circle cx="336.2" cy="395.8" r="2.8"/><circle cx="327.0" cy="395.7" r="2.8"/><circle cx="305.3" cy="395.5" r="2.8"/><circle cx="337.1" cy="395.2" r="2.8"/><circle cx="337.7" cy="395.1" r="2.8"/><circle cx="335.4" cy="394.9" r="2.8"/><circle cx="322.8" cy="394.7" r="2.8"/><circle cx="342.1" cy="394.5" r="2.8"/><circle cx="308.1" cy="394.2" r="2.8"/><circle cx="335.8" cy="394.0" r="2.8"/><circle cx="329.6" cy="393.8" r="2.8"/><circle cx="334.1" cy="393.6" r="2.8"/><circle cx="306.9" cy="393.3" r="2.8"/><circle cx="345.6" cy="393.1" r="2.8"/><circle cx="305.3" cy="393.0" r="2.8"/><circle cx="311.6" cy="392.8" r="2.8"/><circle cx="326.2" cy="392.7" r="2.8"/><circle cx="328.6" cy="392.5" r="2.8"/><circle cx="311.7" cy="392.2" r="2.8"/><circle cx="316.4" cy="392.1" r="2.8"/><circle cx="343.4" cy="391.8" r="2.8"/><circle cx="317.8" cy="391.6" r="2.8"/><circle cx="323.1" cy="391.4" r="2.8"/><circle cx="308.8" cy="391.1" r="2.8"/><circle cx="328.5" cy="391.1" r="2.8"/><circle cx="334.1" cy="390.7" r="2.8"/><circle cx="335.9" cy="390.6" r="2.8"/><circle cx="314.0" cy="390.4" r="2.8"/><circle cx="319.9" cy="390.2" r="2.8"/><circle cx="332.1" cy="389.9" r="2.8"/><circle cx="345.8" cy="389.8" r="2.8"/><circle cx="337.1" cy="389.7" r="2.8"/><circle cx="313.4" cy="389.3" r="2.8"/><circle cx="306.8" cy="389.2" r="2.8"/><circle cx="318.1" cy="389.0" r="2.8"/><circle cx="326.8" cy="388.9" r="2.8"/><circle cx="315.7" cy="388.7" r="2.8"/><circle cx="338.0" cy="388.4" r="2.8"/><circle cx="315.0" cy="388.1" r="2.8"/><circle cx="309.3" cy="388.0" r="2.8"/><circle cx="329.9" cy="387.8" r="2.8"/><circle cx="336.7" cy="387.6" r="2.8"/><circle cx="312.8" cy="387.5" r="2.8"/><circle cx="318.4" cy="387.2" r="2.8"/><circle cx="315.2" cy="387.0" r="2.8"/><circle cx="305.2" cy="386.7" r="2.8"/><circle cx="333.4" cy="386.6" r="2.8"/><circle cx="306.2" cy="386.3" r="2.8"/><circle cx="330.3" cy="386.1" r="2.8"/><circle cx="331.0" cy="385.9" r="2.8"/><circle cx="326.8" cy="385.7" r="2.8"/><circle cx="305.8" cy="385.7" r="2.8"/><circle cx="305.6" cy="385.3" r="2.8"/><circle cx="326.1" cy="385.2" r="2.8"/><circle cx="325.1" cy="385.0" r="2.8"/><circle cx="304.7" cy="384.8" r="2.8"/><circle cx="304.5" cy="384.5" r="2.8"/><circle cx="337.3" cy="384.3" r="2.8"/><circle cx="318.0" cy="384.2" r="2.8"/><circle cx="334.8" cy="384.0" r="2.8"/><circle cx="312.5" cy="383.7" r="2.8"/><circle cx="315.4" cy="383.5" r="2.8"/><circle cx="342.6" cy="383.4" r="2.8"/><circle cx="312.5" cy="383.2" r="2.8"/><circle cx="321.6" cy="382.9" r="2.8"/><circle cx="325.4" cy="382.7" r="2.8"/><circle cx="334.6" cy="382.5" r="2.8"/><circle cx="317.8" cy="382.4" r="2.8"/><circle cx="331.9" cy="382.1" r="2.8"/><circle cx="313.6" cy="381.9" r="2.8"/><circle cx="333.3" cy="381.8" r="2.8"/><circle cx="304.9" cy="381.6" r="2.8"/><circle cx="312.0" cy="381.4" r="2.8"/><circle cx="306.6" cy="381.1" r="2.8"/><circle cx="308.4" cy="380.9" r="2.8"/><circle cx="336.2" cy="380.8" r="2.8"/><circle cx="324.0" cy="380.5" r="2.8"/><circle cx="337.7" cy="380.3" r="2.8"/><circle cx="345.9" cy="380.1" r="2.8"/><circle cx="312.0" cy="380.0" r="2.8"/><circle cx="337.1" cy="379.7" r="2.8"/><circle cx="345.8" cy="379.5" r="2.8"/><circle cx="317.3" cy="379.3" r="2.8"/><circle cx="307.3" cy="379.1" r="2.8"/><circle cx="323.9" cy="378.9" r="2.8"/><circle cx="327.3" cy="378.6" r="2.8"/><circle cx="333.6" cy="378.5" r="2.8"/><circle cx="328.5" cy="378.3" r="2.8"/><circle cx="317.0" cy="378.2" r="2.8"/><circle cx="311.0" cy="377.9" r="2.8"/><circle cx="318.6" cy="377.7" r="2.8"/><circle cx="324.2" cy="377.5" r="2.8"/><circle cx="312.0" cy="377.4" r="2.8"/><circle cx="316.8" cy="377.1" r="2.8"/><circle cx="342.0" cy="376.9" r="2.8"/><circle cx="322.2" cy="376.7" r="2.8"/><circle cx="309.4" cy="376.5" r="2.8"/><circle cx="332.6" cy="376.3" r="2.8"/><circle cx="319.3" cy="376.0" r="2.8"/><circle cx="326.1" cy="375.8" r="2.8"/><circle cx="320.9" cy="375.6" r="2.8"/><circle cx="308.9" cy="375.5" r="2.8"/><circle cx="335.7" cy="375.3" r="2.8"/><circle cx="328.5" cy="375.0" r="2.8"/><circle cx="346.5" cy="374.9" r="2.8"/><circle cx="304.2" cy="374.5" r="2.8"/><circle cx="328.8" cy="374.4" r="2.8"/><circle cx="322.3" cy="374.3" r="2.8"/><circle cx="322.7" cy="374.0" r="2.8"/><circle cx="335.1" cy="373.9" r="2.8"/><circle cx="314.4" cy="373.5" r="2.8"/><circle cx="321.2" cy="373.3" r="2.8"/><circle cx="309.7" cy="373.1" r="2.8"/><circle cx="328.4" cy="373.0" r="2.8"/><circle cx="322.8" cy="372.7" r="2.8"/><circle cx="305.8" cy="372.6" r="2.8"/><circle cx="313.9" cy="372.4" r="2.8"/><circle cx="321.0" cy="372.2" r="2.8"/><circle cx="326.9" cy="372.0" r="2.8"/><circle cx="308.0" cy="371.6" r="2.8"/><circle cx="330.6" cy="371.5" r="2.8"/><circle cx="339.2" cy="371.3" r="2.8"/><circle cx="318.3" cy="371.1" r="2.8"/><circle cx="306.9" cy="370.9" r="2.8"/><circle cx="310.3" cy="370.7" r="2.8"/><circle cx="336.8" cy="370.5" r="2.8"/><circle cx="326.9" cy="370.3" r="2.8"/><circle cx="309.9" cy="370.2" r="2.8"/><circle cx="311.2" cy="369.9" r="2.8"/><circle cx="339.8" cy="369.6" r="2.8"/><circle cx="333.2" cy="369.5" r="2.8"/><circle cx="333.9" cy="369.3" r="2.8"/><circle cx="310.0" cy="369.0" r="2.8"/><circle cx="346.6" cy="368.9" r="2.8"/><circle cx="314.9" cy="368.7" r="2.8"/><circle cx="319.2" cy="368.4" r="2.8"/><circle cx="314.1" cy="368.3" r="2.8"/><circle cx="344.5" cy="368.1" r="2.8"/><circle cx="331.2" cy="367.7" r="2.8"/><circle cx="327.8" cy="367.6" r="2.8"/><circle cx="321.8" cy="367.3" r="2.8"/><circle cx="334.8" cy="367.1" r="2.8"/><circle cx="324.1" cy="367.1" r="2.8"/><circle cx="323.9" cy="366.8" r="2.8"/><circle cx="310.5" cy="366.5" r="2.8"/><circle cx="339.4" cy="366.4" r="2.8"/><circle cx="306.8" cy="366.2" r="2.8"/><circle cx="343.0" cy="365.9" r="2.8"/><circle cx="343.4" cy="365.8" r="2.8"/><circle cx="326.5" cy="365.4" r="2.8"/><circle cx="311.0" cy="365.3" r="2.8"/><circle cx="313.4" cy="365.1" r="2.8"/><circle cx="310.0" cy="365.0" r="2.8"/><circle cx="334.1" cy="364.7" r="2.8"/><circle cx="319.6" cy="364.4" r="2.8"/><circle cx="346.2" cy="364.3" r="2.8"/><circle cx="318.7" cy="364.2" r="2.8"/><circle cx="318.2" cy="364.0" r="2.8"/><circle cx="333.1" cy="363.8" r="2.8"/><circle cx="341.8" cy="363.5" r="2.8"/><circle cx="326.6" cy="363.2" r="2.8"/><circle cx="309.3" cy="363.1" r="2.8"/><circle cx="311.3" cy="362.9" r="2.8"/><circle cx="334.7" cy="362.7" r="2.8"/><circle cx="336.9" cy="362.5" r="2.8"/><circle cx="346.6" cy="362.2" r="2.8"/><circle cx="328.6" cy="362.0" r="2.8"/><circle cx="337.6" cy="361.9" r="2.8"/><circle cx="333.0" cy="361.5" r="2.8"/><circle cx="327.6" cy="361.4" r="2.8"/><circle cx="338.8" cy="361.2" r="2.8"/><circle cx="312.8" cy="360.9" r="2.8"/><circle cx="310.6" cy="360.7" r="2.8"/><circle cx="317.3" cy="360.6" r="2.8"/><circle cx="320.6" cy="360.3" r="2.8"/><circle cx="344.8" cy="360.1" r="2.8"/><circle cx="339.5" cy="359.9" r="2.8"/><circle cx="336.0" cy="359.7" r="2.8"/><circle cx="342.3" cy="359.4" r="2.8"/><circle cx="320.5" cy="359.0" r="2.8"/><circle cx="346.3" cy="358.7" r="2.8"/><circle cx="343.0" cy="358.3" r="2.8"/><circle cx="312.0" cy="357.8" r="2.8"/><circle cx="320.2" cy="357.6" r="2.8"/><circle cx="317.2" cy="357.4" r="2.8"/><circle cx="312.3" cy="357.0" r="2.8"/><circle cx="344.3" cy="356.6" r="2.8"/><circle cx="320.8" cy="356.4" r="2.8"/><circle cx="341.4" cy="356.0" r="2.8"/><circle cx="329.6" cy="355.6" r="2.8"/><circle cx="306.6" cy="355.2" r="2.8"/><circle cx="322.6" cy="355.0" r="2.8"/><circle cx="337.5" cy="354.6" r="2.8"/><circle cx="317.7" cy="354.3" r="2.8"/><circle cx="316.6" cy="354.1" r="2.8"/><circle cx="308.0" cy="353.7" r="2.8"/><circle cx="324.4" cy="353.4" r="2.8"/><circle cx="344.5" cy="353.1" r="2.8"/><circle cx="304.8" cy="352.8" r="2.8"/><circle cx="342.1" cy="352.2" r="2.8"/><circle cx="329.8" cy="352.2" r="2.8"/><circle cx="316.1" cy="351.6" r="2.8"/><circle cx="342.6" cy="351.4" r="2.8"/><circle cx="343.9" cy="351.2" r="2.8"/><circle cx="345.8" cy="350.6" r="2.8"/><circle cx="323.9" cy="350.4" r="2.8"/><circle cx="321.8" cy="350.1" r="2.8"/><circle cx="332.6" cy="349.6" r="2.8"/><circle cx="342.2" cy="349.4" r="2.8"/><circle cx="319.0" cy="349.1" r="2.8"/><circle cx="318.3" cy="348.7" r="2.8"/><circle cx="321.6" cy="348.4" r="2.8"/><circle cx="304.9" cy="348.2" r="2.8"/><circle cx="340.1" cy="347.7" r="2.8"/><circle cx="323.7" cy="347.0" r="2.8"/><circle cx="324.1" cy="346.5" r="2.8"/><circle cx="331.2" cy="345.9" r="2.8"/><circle cx="338.8" cy="345.1" r="2.8"/><circle cx="334.3" cy="344.6" r="2.8"/><circle cx="318.3" cy="344.2" r="2.8"/><circle cx="316.7" cy="343.6" r="2.8"/><circle cx="318.3" cy="342.8" r="2.8"/><circle cx="326.9" cy="342.3" r="2.8"/><circle cx="338.9" cy="342.0" r="2.8"/><circle cx="304.3" cy="341.4" r="2.8"/><circle cx="330.0" cy="340.7" r="2.8"/><circle cx="340.3" cy="339.8" r="2.8"/><circle cx="328.1" cy="339.5" r="2.8"/><circle cx="320.4" cy="338.8" r="2.8"/><circle cx="324.4" cy="337.9" r="2.8"/><circle cx="307.6" cy="647.7" r="2.8"/><circle cx="323.2" cy="643.7" r="2.8"/><circle cx="329.2" cy="638.6" r="2.8"/><circle cx="316.1" cy="653.7" r="2.8"/><circle cx="318.7" cy="654.7" r="2.8"/><circle cx="314.1" cy="659.3" r="2.8"/><circle cx="307.6" cy="666.3" r="2.8"/><circle cx="314.1" cy="674.4" r="2.8"/><circle cx="313.1" cy="679.4" r="2.8"/><circle cx="317.7" cy="679.9" r="2.8"/><circle cx="323.7" cy="674.9" r="2.8"/><circle cx="338.3" cy="673.4" r="2.8"/><circle cx="345.4" cy="663.3" r="2.8"/><circle cx="346.9" cy="675.9" r="2.8"/><circle cx="336.8" cy="686.5" r="2.8"/><circle cx="317.2" cy="694.5" r="2.8"/><circle cx="501.8" cy="698.3" r="2.8"/><circle cx="499.4" cy="698.3" r="2.8"/><circle cx="504.9" cy="698.3" r="2.8"/><circle cx="487.3" cy="698.3" r="2.8"/><circle cx="484.1" cy="698.3" r="2.8"/><circle cx="486.4" cy="698.3" r="2.8"/><circle cx="508.0" cy="698.3" r="2.8"/><circle cx="515.6" cy="698.3" r="2.8"/><circle cx="487.7" cy="698.3" r="2.8"/><circle cx="502.1" cy="698.3" r="2.8"/><circle cx="499.0" cy="698.3" r="2.8"/><circle cx="511.9" cy="698.3" r="2.8"/><circle cx="474.6" cy="698.3" r="2.8"/><circle cx="500.7" cy="698.3" r="2.8"/><circle cx="511.4" cy="698.3" r="2.8"/><circle cx="515.5" cy="698.3" r="2.8"/><circle cx="491.9" cy="698.3" r="2.8"/><circle cx="494.7" cy="698.3" r="2.8"/><circle cx="510.1" cy="698.3" r="2.8"/><circle cx="514.2" cy="698.3" r="2.8"/><circle cx="484.1" cy="698.3" r="2.8"/><circle cx="512.2" cy="698.3" r="2.8"/><circle cx="479.2" cy="698.3" r="2.8"/><circle cx="476.2" cy="698.3" r="2.8"/><circle cx="475.4" cy="698.3" r="2.8"/><circle cx="477.2" cy="698.3" r="2.8"/><circle cx="478.1" cy="698.3" r="2.8"/><circle cx="484.1" cy="698.3" r="2.8"/><circle cx="486.4" cy="698.3" r="2.8"/><circle cx="515.7" cy="698.3" r="2.8"/><circle cx="508.5" cy="698.3" r="2.8"/><circle cx="478.5" cy="698.3" r="2.8"/><circle cx="482.3" cy="698.3" r="2.8"/><circle cx="503.8" cy="698.3" r="2.8"/><circle cx="499.8" cy="698.3" r="2.8"/><circle cx="493.2" cy="698.3" r="2.8"/><circle cx="492.3" cy="698.3" r="2.8"/><circle cx="506.1" cy="698.3" r="2.8"/><circle cx="495.1" cy="698.3" r="2.8"/><circle cx="504.9" cy="698.3" r="2.8"/><circle cx="474.5" cy="698.3" r="2.8"/><circle cx="478.3" cy="698.3" r="2.8"/><circle cx="482.0" cy="698.3" r="2.8"/><circle cx="499.5" cy="698.3" r="2.8"/><circle cx="499.0" cy="698.3" r="2.8"/><circle cx="511.4" cy="698.3" r="2.8"/><circle cx="512.1" cy="698.3" r="2.8"/><circle cx="508.7" cy="698.3" r="2.8"/><circle cx="488.2" cy="698.3" r="2.8"/><circle cx="476.5" cy="698.3" r="2.8"/><circle cx="512.1" cy="698.3" r="2.8"/><circle cx="514.0" cy="698.3" r="2.8"/><circle cx="475.1" cy="698.3" r="2.8"/><circle cx="474.2" cy="698.3" r="2.8"/><circle cx="481.6" cy="698.3" r="2.8"/><circle cx="489.5" cy="698.3" r="2.8"/><circle cx="504.4" cy="698.3" r="2.8"/><circle cx="493.6" cy="698.3" r="2.8"/><circle cx="502.4" cy="698.3" r="2.8"/><circle cx="509.0" cy="698.3" r="2.8"/><circle cx="481.6" cy="698.3" r="2.8"/><circle cx="487.3" cy="698.3" r="2.8"/><circle cx="515.7" cy="698.3" r="2.8"/><circle cx="497.3" cy="698.3" r="2.8"/><circle cx="495.2" cy="698.3" r="2.8"/><circle cx="497.7" cy="698.3" r="2.8"/><circle cx="497.5" cy="698.3" r="2.8"/><circle cx="505.2" cy="698.3" r="2.8"/><circle cx="511.4" cy="698.3" r="2.8"/><circle cx="500.8" cy="698.3" r="2.8"/><circle cx="501.1" cy="698.3" r="2.8"/><circle cx="498.9" cy="698.3" r="2.8"/><circle cx="484.3" cy="698.3" r="2.8"/><circle cx="506.9" cy="698.3" r="2.8"/><circle cx="482.5" cy="698.3" r="2.8"/><circle cx="485.1" cy="698.3" r="2.8"/><circle cx="488.6" cy="698.3" r="2.8"/><circle cx="496.6" cy="698.3" r="2.8"/><circle cx="509.2" cy="698.3" r="2.8"/><circle cx="489.3" cy="698.3" r="2.8"/><circle cx="499.9" cy="698.3" r="2.8"/><circle cx="492.7" cy="698.3" r="2.8"/><circle cx="493.2" cy="698.3" r="2.8"/><circle cx="515.6" cy="698.3" r="2.8"/><circle cx="501.9" cy="698.3" r="2.8"/><circle cx="474.8" cy="698.3" r="2.8"/><circle cx="511.2" cy="698.3" r="2.8"/><circle cx="495.5" cy="698.3" r="2.8"/><circle cx="515.4" cy="698.3" r="2.8"/><circle cx="479.4" cy="698.3" r="2.8"/><circle cx="515.3" cy="698.3" r="2.8"/><circle cx="502.2" cy="698.3" r="2.8"/><circle cx="500.7" cy="698.3" r="2.8"/><circle cx="495.4" cy="698.3" r="2.8"/><circle cx="515.6" cy="698.3" r="2.8"/><circle cx="510.0" cy="698.3" r="2.8"/><circle cx="496.5" cy="698.3" r="2.8"/><circle cx="490.1" cy="698.3" r="2.8"/><circle cx="490.7" cy="698.3" r="2.8"/><circle cx="494.5" cy="698.3" r="2.8"/><circle cx="481.7" cy="698.3" r="2.8"/><circle cx="484.0" cy="698.3" r="2.8"/><circle cx="502.4" cy="698.3" r="2.8"/><circle cx="507.2" cy="698.3" r="2.8"/><circle cx="513.0" cy="698.3" r="2.8"/><circle cx="480.8" cy="698.3" r="2.8"/><circle cx="487.3" cy="698.3" r="2.8"/><circle cx="481.9" cy="698.3" r="2.8"/><circle cx="500.9" cy="698.3" r="2.8"/><circle cx="487.0" cy="698.3" r="2.8"/><circle cx="487.8" cy="698.3" r="2.8"/><circle cx="476.9" cy="698.3" r="2.8"/><circle cx="507.2" cy="698.3" r="2.8"/><circle cx="514.1" cy="698.3" r="2.8"/><circle cx="479.9" cy="698.3" r="2.8"/><circle cx="495.1" cy="698.3" r="2.8"/><circle cx="507.8" cy="698.3" r="2.8"/><circle cx="511.4" cy="698.3" r="2.8"/><circle cx="489.1" cy="698.3" r="2.8"/><circle cx="476.6" cy="698.2" r="2.8"/><circle cx="506.9" cy="698.0" r="2.8"/><circle cx="504.5" cy="698.0" r="2.8"/><circle cx="491.0" cy="697.9" r="2.8"/><circle cx="516.3" cy="697.7" r="2.8"/><circle cx="504.8" cy="697.6" r="2.8"/><circle cx="498.5" cy="697.4" r="2.8"/><circle cx="499.4" cy="697.3" r="2.8"/><circle cx="477.4" cy="697.2" r="2.8"/><circle cx="515.3" cy="697.1" r="2.8"/><circle cx="516.6" cy="696.9" r="2.8"/><circle cx="481.1" cy="696.8" r="2.8"/><circle cx="507.1" cy="696.7" r="2.8"/><circle cx="498.9" cy="696.6" r="2.8"/><circle cx="491.0" cy="696.4" r="2.8"/><circle cx="499.4" cy="696.3" r="2.8"/><circle cx="479.2" cy="696.2" r="2.8"/><circle cx="489.1" cy="696.0" r="2.8"/><circle cx="488.3" cy="696.0" r="2.8"/><circle cx="503.3" cy="695.9" r="2.8"/><circle cx="496.7" cy="695.7" r="2.8"/><circle cx="475.1" cy="695.7" r="2.8"/><circle cx="486.4" cy="695.6" r="2.8"/><circle cx="490.5" cy="695.5" r="2.8"/><circle cx="489.6" cy="695.4" r="2.8"/><circle cx="507.8" cy="695.3" r="2.8"/><circle cx="509.6" cy="695.2" r="2.8"/><circle cx="514.9" cy="695.1" r="2.8"/><circle cx="514.5" cy="695.0" r="2.8"/><circle cx="495.0" cy="694.9" r="2.8"/><circle cx="498.0" cy="694.9" r="2.8"/><circle cx="499.9" cy="694.7" r="2.8"/><circle cx="495.8" cy="694.6" r="2.8"/><circle cx="475.6" cy="694.5" r="2.8"/><circle cx="478.8" cy="694.5" r="2.8"/><circle cx="508.2" cy="694.4" r="2.8"/><circle cx="506.4" cy="694.3" r="2.8"/><circle cx="487.4" cy="694.1" r="2.8"/><circle cx="482.5" cy="694.1" r="2.8"/><circle cx="498.5" cy="694.0" r="2.8"/><circle cx="510.5" cy="693.9" r="2.8"/><circle cx="476.4" cy="693.8" r="2.8"/><circle cx="502.0" cy="693.7" r="2.8"/><circle cx="483.7" cy="693.6" r="2.8"/><circle cx="485.0" cy="693.5" r="2.8"/><circle cx="493.0" cy="693.4" r="2.8"/><circle cx="481.0" cy="693.3" r="2.8"/><circle cx="506.0" cy="693.3" r="2.8"/><circle cx="478.1" cy="693.2" r="2.8"/><circle cx="495.3" cy="693.1" r="2.8"/><circle cx="502.7" cy="692.9" r="2.8"/><circle cx="509.7" cy="692.8" r="2.8"/><circle cx="497.8" cy="692.7" r="2.8"/><circle cx="479.6" cy="692.7" r="2.8"/><circle cx="508.8" cy="692.6" r="2.8"/><circle cx="514.4" cy="692.5" r="2.8"/><circle cx="475.3" cy="692.4" r="2.8"/><circle cx="513.3" cy="692.3" r="2.8"/><circle cx="500.7" cy="692.2" r="2.8"/><circle cx="499.7" cy="692.1" r="2.8"/><circle cx="490.7" cy="692.0" r="2.8"/><circle cx="481.0" cy="691.9" r="2.8"/><circle cx="499.8" cy="691.8" r="2.8"/><circle cx="512.1" cy="691.7" r="2.8"/><circle cx="475.0" cy="691.6" r="2.8"/><circle cx="497.9" cy="691.5" r="2.8"/><circle cx="501.4" cy="691.5" r="2.8"/><circle cx="513.5" cy="691.3" r="2.8"/><circle cx="474.6" cy="691.3" r="2.8"/><circle cx="489.9" cy="691.2" r="2.8"/><circle cx="479.5" cy="691.1" r="2.8"/><circle cx="487.4" cy="691.0" r="2.8"/><circle cx="513.0" cy="690.9" r="2.8"/><circle cx="481.7" cy="690.8" r="2.8"/><circle cx="489.4" cy="690.7" r="2.8"/><circle cx="509.3" cy="690.6" r="2.8"/><circle cx="506.2" cy="690.5" r="2.8"/><circle cx="513.4" cy="690.5" r="2.8"/><circle cx="479.3" cy="690.3" r="2.8"/><circle cx="477.1" cy="690.3" r="2.8"/><circle cx="483.5" cy="690.1" r="2.8"/><circle cx="495.3" cy="690.1" r="2.8"/><circle cx="503.2" cy="689.9" r="2.8"/><circle cx="479.0" cy="689.8" r="2.8"/><circle cx="501.0" cy="689.8" r="2.8"/><circle cx="483.6" cy="689.7" r="2.8"/><circle cx="515.4" cy="689.5" r="2.8"/><circle cx="497.9" cy="689.5" r="2.8"/><circle cx="480.0" cy="689.4" r="2.8"/><circle cx="509.8" cy="689.3" r="2.8"/><circle cx="495.2" cy="689.2" r="2.8"/><circle cx="507.1" cy="689.1" r="2.8"/><circle cx="497.3" cy="689.0" r="2.8"/><circle cx="512.1" cy="688.9" r="2.8"/><circle cx="486.1" cy="688.8" r="2.8"/><circle cx="515.7" cy="688.8" r="2.8"/><circle cx="474.8" cy="688.6" r="2.8"/><circle cx="490.2" cy="688.5" r="2.8"/><circle cx="480.8" cy="688.5" r="2.8"/><circle cx="516.5" cy="688.4" r="2.8"/><circle cx="474.8" cy="688.2" r="2.8"/><circle cx="486.4" cy="688.1" r="2.8"/><circle cx="490.7" cy="688.1" r="2.8"/><circle cx="477.2" cy="688.0" r="2.8"/><circle cx="513.5" cy="687.8" r="2.8"/><circle cx="507.1" cy="687.8" r="2.8"/><circle cx="497.1" cy="687.7" r="2.8"/><circle cx="491.5" cy="687.6" r="2.8"/><circle cx="482.4" cy="687.5" r="2.8"/><circle cx="481.1" cy="687.4" r="2.8"/><circle cx="491.5" cy="687.3" r="2.8"/><circle cx="500.4" cy="687.2" r="2.8"/><circle cx="510.7" cy="687.1" r="2.8"/><circle cx="484.5" cy="687.1" r="2.8"/><circle cx="511.1" cy="686.9" r="2.8"/><circle cx="502.4" cy="686.8" r="2.8"/><circle cx="480.9" cy="686.7" r="2.8"/><circle cx="475.4" cy="686.6" r="2.8"/><circle cx="475.1" cy="686.5" r="2.8"/><circle cx="515.5" cy="686.4" r="2.8"/><circle cx="484.6" cy="686.3" r="2.8"/><circle cx="476.8" cy="686.3" r="2.8"/><circle cx="502.3" cy="686.2" r="2.8"/><circle cx="485.9" cy="686.1" r="2.8"/><circle cx="514.6" cy="686.0" r="2.8"/><circle cx="502.5" cy="685.9" r="2.8"/><circle cx="512.1" cy="685.8" r="2.8"/><circle cx="502.0" cy="685.7" r="2.8"/><circle cx="505.5" cy="685.6" r="2.8"/><circle cx="493.8" cy="685.5" r="2.8"/><circle cx="492.3" cy="685.5" r="2.8"/><circle cx="507.6" cy="685.3" r="2.8"/><circle cx="481.8" cy="685.2" r="2.8"/><circle cx="476.8" cy="685.2" r="2.8"/><circle cx="513.2" cy="685.0" r="2.8"/><circle cx="490.5" cy="685.0" r="2.8"/><circle cx="498.0" cy="684.8" r="2.8"/><circle cx="491.0" cy="684.8" r="2.8"/><circle cx="506.0" cy="684.7" r="2.8"/><circle cx="507.4" cy="684.6" r="2.8"/><circle cx="481.9" cy="684.5" r="2.8"/><circle cx="507.2" cy="684.4" r="2.8"/><circle cx="487.7" cy="684.3" r="2.8"/><circle cx="498.5" cy="684.2" r="2.8"/><circle cx="494.8" cy="684.1" r="2.8"/><circle cx="510.4" cy="684.0" r="2.8"/><circle cx="492.0" cy="683.9" r="2.8"/><circle cx="509.5" cy="683.8" r="2.8"/><circle cx="514.5" cy="683.7" r="2.8"/><circle cx="498.7" cy="683.7" r="2.8"/><circle cx="509.1" cy="683.5" r="2.8"/><circle cx="512.1" cy="683.3" r="2.8"/><circle cx="483.8" cy="682.9" r="2.8"/><circle cx="493.4" cy="682.6" r="2.8"/><circle cx="512.8" cy="682.6" r="2.8"/><circle cx="506.7" cy="682.2" r="2.8"/><circle cx="510.4" cy="682.0" r="2.8"/><circle cx="499.9" cy="681.6" r="2.8"/><circle cx="490.3" cy="681.3" r="2.8"/><circle cx="507.8" cy="681.1" r="2.8"/><circle cx="488.8" cy="680.8" r="2.8"/><circle cx="499.0" cy="680.5" r="2.8"/><circle cx="483.1" cy="680.3" r="2.8"/><circle cx="491.2" cy="680.0" r="2.8"/><circle cx="493.3" cy="679.7" r="2.8"/><circle cx="478.9" cy="679.4" r="2.8"/><circle cx="478.4" cy="679.0" r="2.8"/><circle cx="512.1" cy="678.9" r="2.8"/><circle cx="516.4" cy="678.5" r="2.8"/><circle cx="481.0" cy="678.3" r="2.8"/><circle cx="489.7" cy="678.0" r="2.8"/><circle cx="503.0" cy="677.6" r="2.8"/><circle cx="480.2" cy="677.5" r="2.8"/><circle cx="476.9" cy="677.1" r="2.8"/><circle cx="513.0" cy="677.0" r="2.8"/><circle cx="486.1" cy="676.6" r="2.8"/><circle cx="515.1" cy="676.4" r="2.8"/><circle cx="496.4" cy="675.9" r="2.8"/><circle cx="499.2" cy="675.7" r="2.8"/><circle cx="497.2" cy="675.5" r="2.8"/><circle cx="495.8" cy="675.2" r="2.8"/><circle cx="485.5" cy="675.0" r="2.8"/><circle cx="500.9" cy="674.5" r="2.8"/><circle cx="492.9" cy="674.2" r="2.8"/><circle cx="510.5" cy="673.9" r="2.8"/><circle cx="486.4" cy="673.7" r="2.8"/><circle cx="482.3" cy="673.5" r="2.8"/><circle cx="511.0" cy="673.2" r="2.8"/><circle cx="497.0" cy="672.9" r="2.8"/><circle cx="483.9" cy="672.6" r="2.8"/><circle cx="507.4" cy="672.5" r="2.8"/><circle cx="486.3" cy="672.1" r="2.8"/><circle cx="504.9" cy="671.9" r="2.8"/><circle cx="502.2" cy="671.6" r="2.8"/><circle cx="486.6" cy="671.1" r="2.8"/><circle cx="501.6" cy="670.9" r="2.8"/><circle cx="495.0" cy="670.6" r="2.8"/><circle cx="475.3" cy="670.3" r="2.8"/><circle cx="516.1" cy="670.0" r="2.8"/><circle cx="485.2" cy="669.9" r="2.8"/><circle cx="490.5" cy="669.5" r="2.8"/><circle cx="511.9" cy="669.3" r="2.8"/><circle cx="503.7" cy="669.1" r="2.8"/><circle cx="481.3" cy="668.7" r="2.8"/><circle cx="501.6" cy="668.5" r="2.8"/><circle cx="474.9" cy="668.1" r="2.8"/><circle cx="506.2" cy="667.9" r="2.8"/><circle cx="500.0" cy="667.7" r="2.8"/><circle cx="502.5" cy="667.2" r="2.8"/><circle cx="498.4" cy="666.9" r="2.8"/><circle cx="489.2" cy="666.6" r="2.8"/><circle cx="502.2" cy="666.3" r="2.8"/><circle cx="493.8" cy="666.1" r="2.8"/><circle cx="506.2" cy="665.7" r="2.8"/><circle cx="475.5" cy="665.5" r="2.8"/><circle cx="485.4" cy="665.2" r="2.8"/><circle cx="480.7" cy="664.9" r="2.8"/><circle cx="496.0" cy="664.8" r="2.8"/><circle cx="500.7" cy="664.5" r="2.8"/><circle cx="483.5" cy="664.1" r="2.8"/><circle cx="514.7" cy="663.9" r="2.8"/><circle cx="489.9" cy="663.5" r="2.8"/><circle cx="474.6" cy="663.4" r="2.8"/><circle cx="505.2" cy="663.1" r="2.8"/><circle cx="478.8" cy="662.8" r="2.8"/><circle cx="474.6" cy="662.5" r="2.8"/><circle cx="486.4" cy="662.1" r="2.8"/><circle cx="494.2" cy="662.0" r="2.8"/><circle cx="484.4" cy="661.5" r="2.8"/><circle cx="488.2" cy="661.2" r="2.8"/><circle cx="479.7" cy="661.2" r="2.8"/><circle cx="489.3" cy="660.6" r="2.8"/><circle cx="508.2" cy="660.4" r="2.8"/><circle cx="487.4" cy="660.3" r="2.8"/><circle cx="499.0" cy="659.8" r="2.8"/><circle cx="483.0" cy="659.8" r="2.8"/><circle cx="479.4" cy="659.4" r="2.8"/><circle cx="487.7" cy="659.2" r="2.8"/><circle cx="475.4" cy="658.8" r="2.8"/><circle cx="494.4" cy="658.6" r="2.8"/><circle cx="504.3" cy="658.3" r="2.8"/><circle cx="492.1" cy="657.9" r="2.8"/><circle cx="483.7" cy="657.7" r="2.8"/><circle cx="488.0" cy="657.4" r="2.8"/><circle cx="509.2" cy="657.0" r="2.8"/><circle cx="484.4" cy="656.7" r="2.8"/><circle cx="488.3" cy="656.7" r="2.8"/><circle cx="503.5" cy="656.2" r="2.8"/><circle cx="484.7" cy="655.9" r="2.8"/><circle cx="514.0" cy="655.6" r="2.8"/><circle cx="481.4" cy="655.4" r="2.8"/><circle cx="475.1" cy="655.0" r="2.8"/><circle cx="492.4" cy="654.8" r="2.8"/><circle cx="497.2" cy="654.6" r="2.8"/><circle cx="498.5" cy="654.3" r="2.8"/><circle cx="487.9" cy="654.0" r="2.8"/><circle cx="507.6" cy="653.7" r="2.8"/><circle cx="510.3" cy="653.4" r="2.8"/><circle cx="495.0" cy="653.1" r="2.8"/><circle cx="509.3" cy="652.9" r="2.8"/><circle cx="508.6" cy="652.7" r="2.8"/><circle cx="481.7" cy="652.4" r="2.8"/><circle cx="480.0" cy="652.1" r="2.8"/><circle cx="479.7" cy="651.8" r="2.8"/><circle cx="477.7" cy="651.4" r="2.8"/><circle cx="507.4" cy="651.2" r="2.8"/><circle cx="490.4" cy="651.0" r="2.8"/><circle cx="480.1" cy="650.7" r="2.8"/><circle cx="497.6" cy="650.3" r="2.8"/><circle cx="486.7" cy="650.0" r="2.8"/><circle cx="476.0" cy="649.7" r="2.8"/><circle cx="491.8" cy="649.5" r="2.8"/><circle cx="509.5" cy="649.3" r="2.8"/><circle cx="504.3" cy="648.9" r="2.8"/><circle cx="516.4" cy="648.7" r="2.8"/><circle cx="494.4" cy="648.5" r="2.8"/><circle cx="515.4" cy="648.0" r="2.8"/><circle cx="490.4" cy="647.8" r="2.8"/><circle cx="495.1" cy="647.4" r="2.8"/><circle cx="506.1" cy="647.2" r="2.8"/><circle cx="493.7" cy="647.0" r="2.8"/><circle cx="481.2" cy="646.8" r="2.8"/><circle cx="504.5" cy="646.4" r="2.8"/><circle cx="513.4" cy="646.1" r="2.8"/><circle cx="489.3" cy="645.8" r="2.8"/><circle cx="491.9" cy="645.6" r="2.8"/><circle cx="487.3" cy="645.4" r="2.8"/><circle cx="503.6" cy="645.0" r="2.8"/><circle cx="495.2" cy="644.6" r="2.8"/><circle cx="483.9" cy="644.1" r="2.8"/><circle cx="512.6" cy="643.9" r="2.8"/><circle cx="474.6" cy="643.6" r="2.8"/><circle cx="509.9" cy="643.2" r="2.8"/><circle cx="511.2" cy="642.7" r="2.8"/><circle cx="478.1" cy="642.3" r="2.8"/><circle cx="474.7" cy="642.0" r="2.8"/><circle cx="501.8" cy="641.8" r="2.8"/><circle cx="499.1" cy="641.2" r="2.8"/><circle cx="481.4" cy="640.8" r="2.8"/><circle cx="492.6" cy="640.7" r="2.8"/><circle cx="478.1" cy="640.4" r="2.8"/><circle cx="491.8" cy="639.9" r="2.8"/><circle cx="496.6" cy="639.7" r="2.8"/><circle cx="512.5" cy="639.3" r="2.8"/><circle cx="490.1" cy="638.9" r="2.8"/><circle cx="480.8" cy="638.6" r="2.8"/><circle cx="514.9" cy="638.0" r="2.8"/><circle cx="501.4" cy="637.8" r="2.8"/><circle cx="479.8" cy="637.6" r="2.8"/><circle cx="476.6" cy="637.1" r="2.8"/><circle cx="490.4" cy="636.6" r="2.8"/><circle cx="484.4" cy="636.5" r="2.8"/><circle cx="489.8" cy="636.0" r="2.8"/><circle cx="485.7" cy="635.7" r="2.8"/><circle cx="513.2" cy="635.3" r="2.8"/><circle cx="508.9" cy="635.0" r="2.8"/><circle cx="502.8" cy="634.7" r="2.8"/><circle cx="477.9" cy="634.1" r="2.8"/><circle cx="508.0" cy="633.8" r="2.8"/><circle cx="491.1" cy="633.5" r="2.8"/><circle cx="511.4" cy="633.2" r="2.8"/><circle cx="476.2" cy="632.7" r="2.8"/><circle cx="480.3" cy="632.7" r="2.8"/><circle cx="479.6" cy="632.2" r="2.8"/><circle cx="509.1" cy="631.8" r="2.8"/><circle cx="515.0" cy="631.6" r="2.8"/><circle cx="506.1" cy="630.9" r="2.8"/><circle cx="487.2" cy="630.7" r="2.8"/><circle cx="476.2" cy="630.3" r="2.8"/><circle cx="515.4" cy="629.9" r="2.8"/><circle cx="481.3" cy="629.7" r="2.8"/><circle cx="508.9" cy="629.2" r="2.8"/><circle cx="494.3" cy="629.0" r="2.8"/><circle cx="488.6" cy="628.5" r="2.8"/><circle cx="491.6" cy="628.3" r="2.8"/><circle cx="477.3" cy="627.8" r="2.8"/><circle cx="479.0" cy="627.6" r="2.8"/><circle cx="511.3" cy="627.2" r="2.8"/><circle cx="493.5" cy="626.8" r="2.8"/><circle cx="502.9" cy="626.5" r="2.8"/><circle cx="488.3" cy="626.0" r="2.8"/><circle cx="494.7" cy="625.8" r="2.8"/><circle cx="508.2" cy="625.3" r="2.8"/><circle cx="501.8" cy="625.2" r="2.8"/><circle cx="491.1" cy="624.8" r="2.8"/><circle cx="493.8" cy="624.5" r="2.8"/><circle cx="516.4" cy="624.1" r="2.8"/><circle cx="475.4" cy="623.7" r="2.8"/><circle cx="491.3" cy="623.5" r="2.8"/><circle cx="479.6" cy="622.9" r="2.8"/><circle cx="478.5" cy="622.5" r="2.8"/><circle cx="476.3" cy="622.1" r="2.8"/><circle cx="506.9" cy="622.1" r="2.8"/><circle cx="493.7" cy="621.7" r="2.8"/><circle cx="497.6" cy="621.2" r="2.8"/><circle cx="487.0" cy="621.0" r="2.8"/><circle cx="491.0" cy="620.4" r="2.8"/><circle cx="493.4" cy="620.2" r="2.8"/><circle cx="509.6" cy="619.8" r="2.8"/><circle cx="477.9" cy="619.6" r="2.8"/><circle cx="481.7" cy="619.2" r="2.8"/><circle cx="481.3" cy="618.6" r="2.8"/><circle cx="494.0" cy="618.4" r="2.8"/><circle cx="494.5" cy="618.1" r="2.8"/><circle cx="503.3" cy="617.5" r="2.8"/><circle cx="516.5" cy="617.5" r="2.8"/><circle cx="513.4" cy="617.0" r="2.8"/><circle cx="484.3" cy="616.7" r="2.8"/><circle cx="491.5" cy="615.4" r="2.8"/><circle cx="496.8" cy="614.6" r="2.8"/><circle cx="508.0" cy="614.3" r="2.8"/><circle cx="496.0" cy="613.1" r="2.8"/><circle cx="480.9" cy="612.2" r="2.8"/><circle cx="476.2" cy="612.0" r="2.8"/><circle cx="488.6" cy="610.7" r="2.8"/><circle cx="500.1" cy="610.4" r="2.8"/><circle cx="481.7" cy="609.4" r="2.8"/><circle cx="493.6" cy="608.8" r="2.8"/><circle cx="490.5" cy="608.1" r="2.8"/><circle cx="515.3" cy="607.2" r="2.8"/><circle cx="504.1" cy="606.9" r="2.8"/><circle cx="516.0" cy="605.7" r="2.8"/><circle cx="496.3" cy="605.0" r="2.8"/><circle cx="495.1" cy="604.1" r="2.8"/><circle cx="516.0" cy="603.3" r="2.8"/><circle cx="491.5" cy="602.4" r="2.8"/><circle cx="497.8" cy="601.7" r="2.8"/><circle cx="475.0" cy="600.9" r="2.8"/><circle cx="481.3" cy="600.5" r="2.8"/><circle cx="486.3" cy="600.0" r="2.8"/><circle cx="484.5" cy="598.8" r="2.8"/><circle cx="492.6" cy="598.5" r="2.8"/><circle cx="512.2" cy="597.0" r="2.8"/><circle cx="483.0" cy="596.6" r="2.8"/><circle cx="476.0" cy="596.0" r="2.8"/><circle cx="498.2" cy="595.5" r="2.8"/><circle cx="489.6" cy="594.1" r="2.8"/><circle cx="476.0" cy="593.3" r="2.8"/><circle cx="506.7" cy="593.1" r="2.8"/><circle cx="514.3" cy="591.8" r="2.8"/><circle cx="506.0" cy="591.6" r="2.8"/><circle cx="508.4" cy="590.4" r="2.8"/><circle cx="506.6" cy="589.7" r="2.8"/><circle cx="516.1" cy="588.9" r="2.8"/><circle cx="480.0" cy="588.5" r="2.8"/><circle cx="511.7" cy="587.3" r="2.8"/><circle cx="504.2" cy="586.5" r="2.8"/><circle cx="514.8" cy="585.7" r="2.8"/><circle cx="510.4" cy="585.3" r="2.8"/><circle cx="497.7" cy="584.3" r="2.8"/><circle cx="502.3" cy="579.7" r="2.8"/><circle cx="484.6" cy="575.6" r="2.8"/><circle cx="488.4" cy="572.0" r="2.8"/><circle cx="480.4" cy="569.9" r="2.8"/><circle cx="491.3" cy="566.2" r="2.8"/><circle cx="485.7" cy="512.5" r="2.8"/><circle cx="505.0" cy="516.6" r="2.8"/><circle cx="477.4" cy="545.7" r="2.8"/><circle cx="510.6" cy="543.8" r="2.8"/><circle cx="506.5" cy="554.0" r="2.8"/><circle cx="514.2" cy="556.8" r="2.8"/><circle cx="661.9" cy="698.3" r="2.8"/><circle cx="665.4" cy="698.3" r="2.8"/><circle cx="682.5" cy="698.3" r="2.8"/><circle cx="682.4" cy="698.3" r="2.8"/><circle cx="648.1" cy="698.3" r="2.8"/><circle cx="665.7" cy="698.3" r="2.8"/><circle cx="648.2" cy="698.3" r="2.8"/><circle cx="680.4" cy="698.3" r="2.8"/><circle cx="655.6" cy="698.3" r="2.8"/><circle cx="658.2" cy="698.3" r="2.8"/><circle cx="657.7" cy="698.3" r="2.8"/><circle cx="674.9" cy="698.3" r="2.8"/><circle cx="657.9" cy="698.3" r="2.8"/><circle cx="663.0" cy="698.3" r="2.8"/><circle cx="681.6" cy="698.3" r="2.8"/><circle cx="662.9" cy="698.3" r="2.8"/><circle cx="683.5" cy="698.3" r="2.8"/><circle cx="683.4" cy="698.3" r="2.8"/><circle cx="663.5" cy="698.3" r="2.8"/><circle cx="654.0" cy="698.3" r="2.8"/><circle cx="684.4" cy="698.3" r="2.8"/><circle cx="668.0" cy="698.3" r="2.8"/><circle cx="659.3" cy="698.3" r="2.8"/><circle cx="646.6" cy="698.3" r="2.8"/><circle cx="663.9" cy="698.3" r="2.8"/><circle cx="645.5" cy="698.3" r="2.8"/><circle cx="671.0" cy="698.3" r="2.8"/><circle cx="661.0" cy="698.3" r="2.8"/><circle cx="656.5" cy="698.3" r="2.8"/><circle cx="653.4" cy="698.3" r="2.8"/><circle cx="676.5" cy="698.3" r="2.8"/><circle cx="682.7" cy="698.3" r="2.8"/><circle cx="644.4" cy="698.3" r="2.8"/><circle cx="666.8" cy="698.3" r="2.8"/><circle cx="647.4" cy="698.3" r="2.8"/><circle cx="645.5" cy="698.3" r="2.8"/><circle cx="686.3" cy="698.3" r="2.8"/><circle cx="657.5" cy="698.3" r="2.8"/><circle cx="666.9" cy="698.3" r="2.8"/><circle cx="682.8" cy="698.3" r="2.8"/><circle cx="671.6" cy="698.3" r="2.8"/><circle cx="659.0" cy="698.3" r="2.8"/><circle cx="674.2" cy="698.3" r="2.8"/><circle cx="677.7" cy="698.3" r="2.8"/><circle cx="671.8" cy="698.3" r="2.8"/><circle cx="660.6" cy="698.3" r="2.8"/><circle cx="676.5" cy="698.3" r="2.8"/><circle cx="660.1" cy="698.3" r="2.8"/><circle cx="659.6" cy="698.3" r="2.8"/><circle cx="656.1" cy="698.3" r="2.8"/><circle cx="685.9" cy="698.3" r="2.8"/><circle cx="649.1" cy="698.3" r="2.8"/><circle cx="646.3" cy="698.3" r="2.8"/><circle cx="656.6" cy="698.3" r="2.8"/><circle cx="649.3" cy="698.3" r="2.8"/><circle cx="659.8" cy="698.3" r="2.8"/><circle cx="684.4" cy="698.3" r="2.8"/><circle cx="684.8" cy="698.3" r="2.8"/><circle cx="653.8" cy="698.3" r="2.8"/><circle cx="656.7" cy="698.3" r="2.8"/><circle cx="661.3" cy="698.3" r="2.8"/><circle cx="684.8" cy="698.3" r="2.8"/><circle cx="655.4" cy="698.3" r="2.8"/><circle cx="676.8" cy="698.3" r="2.8"/><circle cx="671.5" cy="698.3" r="2.8"/><circle cx="681.8" cy="698.3" r="2.8"/><circle cx="655.9" cy="698.3" r="2.8"/><circle cx="683.9" cy="698.3" r="2.8"/><circle cx="686.9" cy="698.3" r="2.8"/><circle cx="661.0" cy="698.3" r="2.8"/><circle cx="684.2" cy="698.3" r="2.8"/><circle cx="675.5" cy="698.3" r="2.8"/><circle cx="653.7" cy="698.3" r="2.8"/><circle cx="663.0" cy="698.3" r="2.8"/><circle cx="654.8" cy="698.3" r="2.8"/><circle cx="682.8" cy="698.3" r="2.8"/><circle cx="653.9" cy="698.3" r="2.8"/><circle cx="681.7" cy="698.3" r="2.8"/><circle cx="655.9" cy="698.3" r="2.8"/><circle cx="682.3" cy="698.3" r="2.8"/><circle cx="678.1" cy="698.3" r="2.8"/><circle cx="675.5" cy="698.3" r="2.8"/><circle cx="655.6" cy="698.3" r="2.8"/><circle cx="674.8" cy="698.3" r="2.8"/><circle cx="671.0" cy="698.3" r="2.8"/><circle cx="658.9" cy="698.3" r="2.8"/><circle cx="686.4" cy="698.3" r="2.8"/><circle cx="685.1" cy="698.3" r="2.8"/><circle cx="672.1" cy="698.3" r="2.8"/><circle cx="683.0" cy="698.3" r="2.8"/><circle cx="658.4" cy="698.3" r="2.8"/><circle cx="651.3" cy="698.3" r="2.8"/><circle cx="658.4" cy="698.3" r="2.8"/><circle cx="668.4" cy="698.3" r="2.8"/><circle cx="682.8" cy="698.3" r="2.8"/><circle cx="680.1" cy="698.3" r="2.8"/><circle cx="654.4" cy="698.3" r="2.8"/><circle cx="679.2" cy="698.3" r="2.8"/><circle cx="682.0" cy="698.3" r="2.8"/><circle cx="669.1" cy="698.3" r="2.8"/><circle cx="665.3" cy="698.3" r="2.8"/><circle cx="664.2" cy="698.3" r="2.8"/><circle cx="652.5" cy="698.3" r="2.8"/><circle cx="655.1" cy="698.3" r="2.8"/><circle cx="665.8" cy="698.3" r="2.8"/><circle cx="666.0" cy="698.3" r="2.8"/><circle cx="666.8" cy="698.3" r="2.8"/><circle cx="663.2" cy="698.3" r="2.8"/><circle cx="680.5" cy="698.3" r="2.8"/><circle cx="651.2" cy="698.3" r="2.8"/><circle cx="651.7" cy="698.3" r="2.8"/><circle cx="684.1" cy="698.3" r="2.8"/><circle cx="669.2" cy="698.3" r="2.8"/><circle cx="670.6" cy="698.3" r="2.8"/><circle cx="664.3" cy="698.3" r="2.8"/><circle cx="662.4" cy="698.3" r="2.8"/><circle cx="659.1" cy="698.3" r="2.8"/><circle cx="666.9" cy="698.3" r="2.8"/><circle cx="679.6" cy="698.3" r="2.8"/><circle cx="645.9" cy="698.3" r="2.8"/><circle cx="684.5" cy="698.3" r="2.8"/><circle cx="652.2" cy="698.3" r="2.8"/><circle cx="665.0" cy="698.3" r="2.8"/><circle cx="679.6" cy="698.3" r="2.8"/><circle cx="649.7" cy="698.3" r="2.8"/><circle cx="672.0" cy="698.3" r="2.8"/><circle cx="670.1" cy="698.3" r="2.8"/><circle cx="667.8" cy="698.3" r="2.8"/><circle cx="679.7" cy="698.3" r="2.8"/><circle cx="649.6" cy="698.3" r="2.8"/><circle cx="653.5" cy="698.3" r="2.8"/><circle cx="683.2" cy="698.3" r="2.8"/><circle cx="684.8" cy="698.3" r="2.8"/><circle cx="649.3" cy="698.3" r="2.8"/><circle cx="672.8" cy="698.3" r="2.8"/><circle cx="648.2" cy="698.3" r="2.8"/><circle cx="684.2" cy="698.3" r="2.8"/><circle cx="684.6" cy="698.3" r="2.8"/><circle cx="673.7" cy="698.3" r="2.8"/><circle cx="664.6" cy="698.3" r="2.8"/><circle cx="672.0" cy="698.3" r="2.8"/><circle cx="668.1" cy="698.3" r="2.8"/><circle cx="679.5" cy="698.3" r="2.8"/><circle cx="679.8" cy="698.3" r="2.8"/><circle cx="681.0" cy="698.3" r="2.8"/><circle cx="680.0" cy="698.3" r="2.8"/><circle cx="653.5" cy="698.3" r="2.8"/><circle cx="652.8" cy="698.3" r="2.8"/><circle cx="674.0" cy="698.3" r="2.8"/><circle cx="667.7" cy="698.3" r="2.8"/><circle cx="685.6" cy="698.3" r="2.8"/><circle cx="646.4" cy="698.3" r="2.8"/><circle cx="661.4" cy="698.3" r="2.8"/><circle cx="681.3" cy="698.3" r="2.8"/><circle cx="663.3" cy="698.3" r="2.8"/><circle cx="649.8" cy="698.3" r="2.8"/><circle cx="658.1" cy="698.3" r="2.8"/><circle cx="685.4" cy="698.3" r="2.8"/><circle cx="677.2" cy="698.3" r="2.8"/><circle cx="680.1" cy="698.3" r="2.8"/><circle cx="655.2" cy="698.3" r="2.8"/><circle cx="678.5" cy="698.3" r="2.8"/><circle cx="644.2" cy="698.1" r="2.8"/><circle cx="653.4" cy="698.0" r="2.8"/><circle cx="670.9" cy="697.9" r="2.8"/><circle cx="672.3" cy="697.7" r="2.8"/><circle cx="663.6" cy="697.6" r="2.8"/><circle cx="685.2" cy="697.3" r="2.8"/><circle cx="659.9" cy="697.1" r="2.8"/><circle cx="655.7" cy="697.0" r="2.8"/><circle cx="652.8" cy="696.8" r="2.8"/><circle cx="676.1" cy="696.7" r="2.8"/><circle cx="679.1" cy="696.6" r="2.8"/><circle cx="679.5" cy="696.3" r="2.8"/><circle cx="670.7" cy="696.2" r="2.8"/><circle cx="645.5" cy="696.1" r="2.8"/><circle cx="661.8" cy="695.8" r="2.8"/><circle cx="651.2" cy="695.7" r="2.8"/><circle cx="656.2" cy="695.4" r="2.8"/><circle cx="645.2" cy="695.3" r="2.8"/><circle cx="673.8" cy="695.1" r="2.8"/><circle cx="654.8" cy="695.1" r="2.8"/><circle cx="668.2" cy="694.9" r="2.8"/><circle cx="685.4" cy="694.7" r="2.8"/><circle cx="654.1" cy="694.6" r="2.8"/><circle cx="656.3" cy="694.3" r="2.8"/><circle cx="655.0" cy="694.2" r="2.8"/><circle cx="646.8" cy="694.0" r="2.8"/><circle cx="668.4" cy="693.9" r="2.8"/><circle cx="667.7" cy="693.7" r="2.8"/><circle cx="669.8" cy="693.5" r="2.8"/><circle cx="685.4" cy="693.4" r="2.8"/><circle cx="668.8" cy="693.3" r="2.8"/><circle cx="670.2" cy="693.1" r="2.8"/><circle cx="682.3" cy="692.9" r="2.8"/><circle cx="681.6" cy="692.7" r="2.8"/><circle cx="666.5" cy="692.6" r="2.8"/><circle cx="670.1" cy="692.3" r="2.8"/><circle cx="659.8" cy="692.2" r="2.8"/><circle cx="665.4" cy="692.1" r="2.8"/><circle cx="664.8" cy="691.8" r="2.8"/><circle cx="666.8" cy="691.7" r="2.8"/><circle cx="654.1" cy="691.5" r="2.8"/><circle cx="669.8" cy="691.4" r="2.8"/><circle cx="656.2" cy="691.2" r="2.8"/><circle cx="657.4" cy="691.0" r="2.8"/><circle cx="657.2" cy="690.8" r="2.8"/><circle cx="677.7" cy="690.7" r="2.8"/><circle cx="647.0" cy="690.5" r="2.8"/><circle cx="686.8" cy="690.4" r="2.8"/><circle cx="651.1" cy="690.2" r="2.8"/><circle cx="670.6" cy="690.0" r="2.8"/><circle cx="654.0" cy="689.9" r="2.8"/><circle cx="673.4" cy="689.7" r="2.8"/><circle cx="680.8" cy="689.5" r="2.8"/><circle cx="662.7" cy="689.3" r="2.8"/><circle cx="664.2" cy="689.1" r="2.8"/><circle cx="686.3" cy="689.0" r="2.8"/><circle cx="669.3" cy="688.8" r="2.8"/><circle cx="659.7" cy="688.7" r="2.8"/><circle cx="653.9" cy="688.5" r="2.8"/><circle cx="680.5" cy="688.3" r="2.8"/><circle cx="674.1" cy="688.1" r="2.8"/><circle cx="657.4" cy="687.9" r="2.8"/><circle cx="665.8" cy="687.9" r="2.8"/><circle cx="649.9" cy="687.6" r="2.8"/><circle cx="677.4" cy="687.5" r="2.8"/><circle cx="682.7" cy="687.3" r="2.8"/><circle cx="675.3" cy="687.2" r="2.8"/><circle cx="674.6" cy="687.1" r="2.8"/><circle cx="649.6" cy="686.8" r="2.8"/><circle cx="683.2" cy="686.7" r="2.8"/><circle cx="669.6" cy="686.5" r="2.8"/><circle cx="682.5" cy="686.4" r="2.8"/><circle cx="676.1" cy="686.2" r="2.8"/><circle cx="682.2" cy="686.0" r="2.8"/><circle cx="678.8" cy="685.9" r="2.8"/><circle cx="675.4" cy="685.6" r="2.8"/><circle cx="669.8" cy="685.5" r="2.8"/><circle cx="656.0" cy="685.4" r="2.8"/><circle cx="654.8" cy="685.2" r="2.8"/><circle cx="683.4" cy="685.0" r="2.8"/><circle cx="678.3" cy="684.8" r="2.8"/><circle cx="654.9" cy="684.6" r="2.8"/><circle cx="648.5" cy="684.5" r="2.8"/><circle cx="681.7" cy="684.4" r="2.8"/><circle cx="644.6" cy="684.2" r="2.8"/><circle cx="670.8" cy="684.0" r="2.8"/><circle cx="674.4" cy="683.9" r="2.8"/><circle cx="662.3" cy="683.7" r="2.8"/><circle cx="683.3" cy="683.5" r="2.8"/><circle cx="671.8" cy="683.4" r="2.8"/><circle cx="686.7" cy="683.2" r="2.8"/><circle cx="673.7" cy="683.1" r="2.8"/><circle cx="668.0" cy="682.9" r="2.8"/><circle cx="647.5" cy="682.6" r="2.8"/><circle cx="681.9" cy="682.4" r="2.8"/><circle cx="649.0" cy="682.4" r="2.8"/><circle cx="655.9" cy="682.2" r="2.8"/><circle cx="671.9" cy="682.1" r="2.8"/><circle cx="673.4" cy="681.8" r="2.8"/><circle cx="683.8" cy="681.7" r="2.8"/><circle cx="684.7" cy="681.5" r="2.8"/><circle cx="683.6" cy="681.4" r="2.8"/><circle cx="678.0" cy="681.2" r="2.8"/><circle cx="660.4" cy="681.1" r="2.8"/><circle cx="675.1" cy="680.8" r="2.8"/><circle cx="650.7" cy="680.6" r="2.8"/><circle cx="658.0" cy="680.6" r="2.8"/><circle cx="686.8" cy="680.2" r="2.8"/><circle cx="671.5" cy="680.1" r="2.8"/><circle cx="683.9" cy="678.8" r="2.8"/><circle cx="651.1" cy="678.1" r="2.8"/><circle cx="669.7" cy="677.7" r="2.8"/><circle cx="651.9" cy="676.7" r="2.8"/><circle cx="674.4" cy="676.2" r="2.8"/><circle cx="683.9" cy="675.7" r="2.8"/><circle cx="662.8" cy="674.7" r="2.8"/><circle cx="644.8" cy="674.2" r="2.8"/><circle cx="658.3" cy="673.6" r="2.8"/><circle cx="647.7" cy="672.5" r="2.8"/><circle cx="663.7" cy="672.2" r="2.8"/><circle cx="678.5" cy="670.9" r="2.8"/><circle cx="686.2" cy="670.7" r="2.8"/><circle cx="656.0" cy="669.9" r="2.8"/><circle cx="650.4" cy="668.9" r="2.8"/><circle cx="646.0" cy="668.1" r="2.8"/><circle cx="657.2" cy="667.7" r="2.8"/><circle cx="655.1" cy="666.9" r="2.8"/><circle cx="652.9" cy="665.9" r="2.8"/><circle cx="682.0" cy="665.7" r="2.8"/><circle cx="656.3" cy="665.0" r="2.8"/><circle cx="650.8" cy="664.4" r="2.8"/><circle cx="650.5" cy="663.2" r="2.8"/><circle cx="675.2" cy="662.5" r="2.8"/><circle cx="662.5" cy="662.2" r="2.8"/><circle cx="660.7" cy="661.1" r="2.8"/><circle cx="674.3" cy="660.7" r="2.8"/><circle cx="671.2" cy="659.8" r="2.8"/><circle cx="663.9" cy="659.0" r="2.8"/><circle cx="670.6" cy="658.3" r="2.8"/><circle cx="657.3" cy="657.6" r="2.8"/><circle cx="662.6" cy="657.0" r="2.8"/><circle cx="673.1" cy="656.1" r="2.8"/><circle cx="644.9" cy="655.7" r="2.8"/><circle cx="661.6" cy="654.5" r="2.8"/><circle cx="660.4" cy="654.1" r="2.8"/><circle cx="657.9" cy="653.1" r="2.8"/><circle cx="665.5" cy="652.5" r="2.8"/><circle cx="673.6" cy="651.9" r="2.8"/><circle cx="675.8" cy="651.2" r="2.8"/><circle cx="677.1" cy="650.5" r="2.8"/><circle cx="670.7" cy="649.8" r="2.8"/><circle cx="644.7" cy="649.0" r="2.8"/><circle cx="654.6" cy="648.3" r="2.8"/><circle cx="672.7" cy="647.4" r="2.8"/><circle cx="649.0" cy="647.1" r="2.8"/><circle cx="668.9" cy="646.0" r="2.8"/><circle cx="644.7" cy="645.5" r="2.8"/><circle cx="680.1" cy="644.5" r="2.8"/><circle cx="651.2" cy="643.8" r="2.8"/><circle cx="662.7" cy="643.6" r="2.8"/><circle cx="649.2" cy="642.3" r="2.8"/><circle cx="651.6" cy="641.7" r="2.8"/><circle cx="664.3" cy="641.1" r="2.8"/><circle cx="666.4" cy="640.7" r="2.8"/><circle cx="681.1" cy="639.5" r="2.8"/><circle cx="652.9" cy="639.0" r="2.8"/><circle cx="681.9" cy="638.5" r="2.8"/><circle cx="654.2" cy="637.5" r="2.8"/><circle cx="660.9" cy="637.1" r="2.8"/><circle cx="685.2" cy="636.0" r="2.8"/><circle cx="666.1" cy="635.7" r="2.8"/><circle cx="654.9" cy="634.9" r="2.8"/><circle cx="663.5" cy="634.4" r="2.8"/><circle cx="679.4" cy="633.4" r="2.8"/><circle cx="681.4" cy="632.5" r="2.8"/><circle cx="648.9" cy="631.8" r="2.8"/><circle cx="666.2" cy="631.2" r="2.8"/><circle cx="660.1" cy="630.6" r="2.8"/><circle cx="647.6" cy="630.0" r="2.8"/><circle cx="662.9" cy="629.1" r="2.8"/><circle cx="656.7" cy="628.1" r="2.8"/><circle cx="675.8" cy="627.3" r="2.8"/><circle cx="644.7" cy="626.6" r="2.8"/><circle cx="663.5" cy="626.4" r="2.8"/><circle cx="658.8" cy="625.7" r="2.8"/><circle cx="662.1" cy="624.8" r="2.8"/><circle cx="662.6" cy="623.9" r="2.8"/><circle cx="686.1" cy="623.6" r="2.8"/><circle cx="673.5" cy="622.9" r="2.8"/><circle cx="660.5" cy="621.6" r="2.8"/><circle cx="658.5" cy="620.8" r="2.8"/><circle cx="662.8" cy="620.5" r="2.8"/><circle cx="684.2" cy="619.5" r="2.8"/><circle cx="669.7" cy="618.8" r="2.8"/><circle cx="685.0" cy="618.1" r="2.8"/><circle cx="652.8" cy="617.6" r="2.8"/><circle cx="666.4" cy="616.5" r="2.8"/><circle cx="675.0" cy="616.4" r="2.8"/><circle cx="679.5" cy="615.6" r="2.8"/><circle cx="648.5" cy="614.6" r="2.8"/><circle cx="661.5" cy="614.1" r="2.8"/><circle cx="681.5" cy="613.0" r="2.8"/><circle cx="670.4" cy="612.3" r="2.8"/><circle cx="650.1" cy="611.6" r="2.8"/><circle cx="662.1" cy="610.8" r="2.8"/><circle cx="665.6" cy="610.3" r="2.8"/><circle cx="644.1" cy="609.9" r="2.8"/><circle cx="662.1" cy="609.1" r="2.8"/><circle cx="664.4" cy="608.6" r="2.8"/><circle cx="685.4" cy="607.6" r="2.8"/><circle cx="666.3" cy="606.7" r="2.8"/><circle cx="666.7" cy="606.0" r="2.8"/><circle cx="647.3" cy="605.2" r="2.8"/><circle cx="645.6" cy="604.8" r="2.8"/><circle cx="663.8" cy="603.6" r="2.8"/><circle cx="671.1" cy="603.2" r="2.8"/><circle cx="653.4" cy="602.7" r="2.8"/><circle cx="668.7" cy="601.5" r="2.8"/><circle cx="648.1" cy="601.0" r="2.8"/><circle cx="655.8" cy="600.2" r="2.8"/><circle cx="666.4" cy="599.6" r="2.8"/><circle cx="657.2" cy="599.3" r="2.8"/><circle cx="663.1" cy="598.2" r="2.8"/><circle cx="674.6" cy="597.3" r="2.8"/><circle cx="651.7" cy="596.7" r="2.8"/><circle cx="672.2" cy="596.3" r="2.8"/><circle cx="685.3" cy="595.4" r="2.8"/><circle cx="679.5" cy="594.5" r="2.8"/><circle cx="660.1" cy="593.6" r="2.8"/><circle cx="671.5" cy="593.4" r="2.8"/><circle cx="648.9" cy="592.4" r="2.8"/><circle cx="675.0" cy="592.1" r="2.8"/><circle cx="676.2" cy="591.3" r="2.8"/><circle cx="653.5" cy="590.4" r="2.8"/><circle cx="660.3" cy="590.0" r="2.8"/><circle cx="670.0" cy="589.0" r="2.8"/><circle cx="672.3" cy="587.9" r="2.8"/><circle cx="670.7" cy="587.6" r="2.8"/><circle cx="676.2" cy="587.0" r="2.8"/><circle cx="680.6" cy="586.3" r="2.8"/><circle cx="664.2" cy="585.3" r="2.8"/><circle cx="644.6" cy="584.7" r="2.8"/><circle cx="678.7" cy="583.8" r="2.8"/><circle cx="648.7" cy="583.3" r="2.8"/><circle cx="666.8" cy="582.6" r="2.8"/><circle cx="674.7" cy="582.1" r="2.8"/><circle cx="678.7" cy="581.6" r="2.8"/><circle cx="666.8" cy="581.2" r="2.8"/><circle cx="671.2" cy="580.4" r="2.8"/><circle cx="685.5" cy="579.5" r="2.8"/><circle cx="677.1" cy="579.2" r="2.8"/><circle cx="656.2" cy="578.3" r="2.8"/><circle cx="684.2" cy="578.2" r="2.8"/><circle cx="673.2" cy="577.2" r="2.8"/><circle cx="657.0" cy="576.5" r="2.8"/><circle cx="655.9" cy="576.3" r="2.8"/><circle cx="663.0" cy="575.6" r="2.8"/><circle cx="665.9" cy="575.1" r="2.8"/><circle cx="680.3" cy="574.4" r="2.8"/><circle cx="663.6" cy="573.5" r="2.8"/><circle cx="674.6" cy="573.1" r="2.8"/><circle cx="658.4" cy="572.8" r="2.8"/><circle cx="664.2" cy="571.7" r="2.8"/><circle cx="657.9" cy="571.3" r="2.8"/><circle cx="660.9" cy="570.6" r="2.8"/><circle cx="674.1" cy="570.0" r="2.8"/><circle cx="654.0" cy="569.4" r="2.8"/><circle cx="665.0" cy="568.9" r="2.8"/><circle cx="675.9" cy="568.6" r="2.8"/><circle cx="644.4" cy="567.7" r="2.8"/><circle cx="661.6" cy="567.2" r="2.8"/><circle cx="677.2" cy="566.7" r="2.8"/><circle cx="672.2" cy="565.9" r="2.8"/><circle cx="679.0" cy="565.8" r="2.8"/><circle cx="655.1" cy="564.9" r="2.8"/><circle cx="670.4" cy="564.1" r="2.8"/><circle cx="657.3" cy="563.7" r="2.8"/><circle cx="647.6" cy="563.2" r="2.8"/><circle cx="677.8" cy="562.8" r="2.8"/><circle cx="656.8" cy="562.1" r="2.8"/><circle cx="675.5" cy="561.5" r="2.8"/><circle cx="677.2" cy="560.5" r="2.8"/><circle cx="678.7" cy="560.2" r="2.8"/><circle cx="656.5" cy="559.7" r="2.8"/><circle cx="678.5" cy="558.8" r="2.8"/><circle cx="654.5" cy="558.3" r="2.8"/><circle cx="672.6" cy="557.9" r="2.8"/><circle cx="644.4" cy="557.1" r="2.8"/><circle cx="677.8" cy="556.9" r="2.8"/><circle cx="646.7" cy="556.0" r="2.8"/><circle cx="674.9" cy="555.4" r="2.8"/><circle cx="671.2" cy="555.1" r="2.8"/><circle cx="646.7" cy="554.2" r="2.8"/><circle cx="669.1" cy="554.0" r="2.8"/><circle cx="674.4" cy="553.3" r="2.8"/><circle cx="678.7" cy="552.4" r="2.8"/><circle cx="686.2" cy="552.0" r="2.8"/><circle cx="654.3" cy="551.2" r="2.8"/><circle cx="662.3" cy="550.7" r="2.8"/><circle cx="659.8" cy="550.2" r="2.8"/><circle cx="672.5" cy="549.5" r="2.8"/><circle cx="652.2" cy="549.2" r="2.8"/><circle cx="668.1" cy="548.6" r="2.8"/><circle cx="654.3" cy="547.5" r="2.8"/><circle cx="652.9" cy="547.1" r="2.8"/><circle cx="676.4" cy="546.8" r="2.8"/><circle cx="667.6" cy="545.9" r="2.8"/><circle cx="677.5" cy="545.1" r="2.8"/><circle cx="672.5" cy="543.8" r="2.8"/><circle cx="680.6" cy="542.8" r="2.8"/><circle cx="664.5" cy="541.6" r="2.8"/><circle cx="644.5" cy="540.1" r="2.8"/><circle cx="687.0" cy="539.3" r="2.8"/><circle cx="653.9" cy="537.7" r="2.8"/><circle cx="679.4" cy="535.7" r="2.8"/><circle cx="652.6" cy="535.1" r="2.8"/><circle cx="666.0" cy="533.9" r="2.8"/><circle cx="656.4" cy="532.2" r="2.8"/><circle cx="672.3" cy="530.5" r="2.8"/><circle cx="647.4" cy="529.0" r="2.8"/><circle cx="647.1" cy="527.5" r="2.8"/><circle cx="663.8" cy="526.2" r="2.8"/><circle cx="680.5" cy="526.0" r="2.8"/><circle cx="664.0" cy="524.2" r="2.8"/><circle cx="649.1" cy="522.8" r="2.8"/><circle cx="686.7" cy="521.3" r="2.8"/><circle cx="648.5" cy="520.7" r="2.8"/><circle cx="657.3" cy="519.0" r="2.8"/><circle cx="668.3" cy="517.6" r="2.8"/><circle cx="655.6" cy="516.0" r="2.8"/><circle cx="674.1" cy="515.0" r="2.8"/><circle cx="662.0" cy="513.7" r="2.8"/><circle cx="678.2" cy="512.5" r="2.8"/><circle cx="647.5" cy="510.6" r="2.8"/><circle cx="679.4" cy="509.7" r="2.8"/><circle cx="682.8" cy="508.5" r="2.8"/><circle cx="654.9" cy="506.2" r="2.8"/><circle cx="654.2" cy="505.6" r="2.8"/><circle cx="681.9" cy="504.4" r="2.8"/><circle cx="661.8" cy="503.3" r="2.8"/><circle cx="661.1" cy="501.0" r="2.8"/><circle cx="669.1" cy="499.7" r="2.8"/><circle cx="667.6" cy="497.7" r="2.8"/><circle cx="679.0" cy="496.6" r="2.8"/><circle cx="672.8" cy="494.7" r="2.8"/><circle cx="674.3" cy="493.7" r="2.8"/><circle cx="662.5" cy="492.2" r="2.8"/><circle cx="666.1" cy="489.2" r="2.8"/><circle cx="680.8" cy="487.9" r="2.8"/><circle cx="681.3" cy="486.8" r="2.8"/><circle cx="670.3" cy="485.6" r="2.8"/><circle cx="669.4" cy="483.2" r="2.8"/><circle cx="657.0" cy="481.7" r="2.8"/><circle cx="664.7" cy="480.1" r="2.8"/><circle cx="652.4" cy="477.9" r="2.8"/><circle cx="664.9" cy="477.3" r="2.8"/><circle cx="646.6" cy="474.8" r="2.8"/><circle cx="655.1" cy="474.0" r="2.8"/><circle cx="656.3" cy="471.6" r="2.8"/><circle cx="664.4" cy="470.0" r="2.8"/><circle cx="684.3" cy="325.5" r="2.8"/><circle cx="658.8" cy="341.6" r="2.8"/><circle cx="685.3" cy="348.2" r="2.8"/><circle cx="660.8" cy="362.3" r="2.8"/><circle cx="648.7" cy="373.8" r="2.8"/><circle cx="653.5" cy="383.0" r="2.8"/><circle cx="674.3" cy="388.5" r="2.8"/><circle cx="658.8" cy="401.6" r="2.8"/><circle cx="646.1" cy="421.7" r="2.8"/><circle cx="652.1" cy="418.7" r="2.8"/><circle cx="654.5" cy="426.7" r="2.8"/><circle cx="681.3" cy="424.7" r="2.8"/><circle cx="657.1" cy="445.9" r="2.8"/><circle cx="681.3" cy="440.8" r="2.8"/><circle cx="675.7" cy="449.9" r="2.8"/><circle cx="674.9" cy="459.6" r="2.8"/><circle cx="649.1" cy="467.0" r="2.8"/><circle cx="655.1" cy="467.0" r="2.8"/></g>
<g fill="#E69F00" fill-opacity="0.21" stroke="#E69F00" stroke-opacity="0.21" stroke-width="0.8" filter="url(#bl)"><circle cx="209.4" cy="698.1" r="2.8"/><circle cx="231.0" cy="697.6" r="2.8"/><circle cx="198.7" cy="697.1" r="2.8"/><circle cx="206.2" cy="696.2" r="2.8"/><circle cx="238.6" cy="695.7" r="2.8"/><circle cx="208.8" cy="695.4" r="2.8"/><circle cx="220.0" cy="694.6" r="2.8"/><circle cx="237.4" cy="693.8" r="2.8"/><circle cx="226.1" cy="693.7" r="2.8"/><circle cx="219.0" cy="693.1" r="2.8"/><circle cx="228.2" cy="692.6" r="2.8"/><circle cx="240.1" cy="691.8" r="2.8"/><circle cx="238.5" cy="691.5" r="2.8"/><circle cx="205.8" cy="691.0" r="2.8"/><circle cx="204.0" cy="690.9" r="2.8"/><circle cx="210.4" cy="690.5" r="2.8"/><circle cx="204.2" cy="689.9" r="2.8"/><circle cx="230.9" cy="689.9" r="2.8"/><circle cx="233.9" cy="689.4" r="2.8"/><circle cx="204.1" cy="689.0" r="2.8"/><circle cx="201.1" cy="688.8" r="2.8"/><circle cx="211.9" cy="688.4" r="2.8"/><circle cx="227.5" cy="687.9" r="2.8"/><circle cx="231.1" cy="687.1" r="2.8"/><circle cx="217.8" cy="686.4" r="2.8"/><circle cx="225.5" cy="685.7" r="2.8"/><circle cx="237.5" cy="685.0" r="2.8"/><circle cx="235.8" cy="684.7" r="2.8"/><circle cx="203.1" cy="683.6" r="2.8"/><circle cx="228.7" cy="683.0" r="2.8"/><circle cx="231.4" cy="682.5" r="2.8"/><circle cx="237.0" cy="681.7" r="2.8"/><circle cx="216.0" cy="681.1" r="2.8"/><circle cx="204.7" cy="679.8" r="2.8"/><circle cx="218.4" cy="679.0" r="2.8"/><circle cx="213.9" cy="677.2" r="2.8"/><circle cx="214.9" cy="674.0" r="2.8"/><circle cx="232.5" cy="672.1" r="2.8"/><circle cx="226.0" cy="669.9" r="2.8"/><circle cx="227.2" cy="668.3" r="2.8"/><circle cx="226.1" cy="666.8" r="2.8"/><circle cx="204.1" cy="664.7" r="2.8"/><circle cx="200.5" cy="662.5" r="2.8"/><circle cx="215.0" cy="659.4" r="2.8"/><circle cx="234.5" cy="652.9" r="2.8"/><circle cx="400.4" cy="692.5" r="2.8"/><circle cx="407.4" cy="690.5" r="2.8"/><circle cx="391.7" cy="689.7" r="2.8"/><circle cx="409.4" cy="686.7" r="2.8"/><circle cx="380.1" cy="685.4" r="2.8"/><circle cx="394.2" cy="684.1" r="2.8"/><circle cx="400.6" cy="681.2" r="2.8"/><circle cx="371.6" cy="680.4" r="2.8"/><circle cx="401.8" cy="678.0" r="2.8"/><circle cx="403.2" cy="677.0" r="2.8"/><circle cx="392.2" cy="674.8" r="2.8"/><circle cx="407.7" cy="673.7" r="2.8"/><circle cx="398.1" cy="671.7" r="2.8"/><circle cx="383.8" cy="669.7" r="2.8"/><circle cx="402.7" cy="668.2" r="2.8"/><circle cx="390.3" cy="665.2" r="2.8"/><circle cx="397.4" cy="663.9" r="2.8"/><circle cx="410.5" cy="662.2" r="2.8"/><circle cx="397.9" cy="659.9" r="2.8"/><circle cx="401.4" cy="658.7" r="2.8"/><circle cx="403.1" cy="656.5" r="2.8"/><circle cx="376.6" cy="654.4" r="2.8"/><circle cx="369.6" cy="652.3" r="2.8"/><circle cx="371.3" cy="649.9" r="2.8"/><circle cx="388.0" cy="645.9" r="2.8"/><circle cx="409.5" cy="642.6" r="2.8"/><circle cx="387.2" cy="639.3" r="2.8"/><circle cx="407.7" cy="637.5" r="2.8"/><circle cx="380.6" cy="633.3" r="2.8"/><circle cx="374.1" cy="630.4" r="2.8"/><circle cx="385.5" cy="628.3" r="2.8"/><circle cx="404.3" cy="626.9" r="2.8"/><circle cx="409.6" cy="622.4" r="2.8"/><circle cx="391.2" cy="619.7" r="2.8"/><circle cx="384.3" cy="611.8" r="2.8"/><circle cx="401.9" cy="607.4" r="2.8"/><circle cx="386.3" cy="594.2" r="2.8"/><circle cx="381.0" cy="591.5" r="2.8"/><circle cx="400.5" cy="578.9" r="2.8"/><circle cx="371.6" cy="576.7" r="2.8"/><circle cx="401.4" cy="567.6" r="2.8"/><circle cx="409.0" cy="558.3" r="2.8"/><circle cx="372.4" cy="553.9" r="2.8"/><circle cx="401.6" cy="539.4" r="2.8"/><circle cx="369.0" cy="518.7" r="2.8"/><circle cx="542.5" cy="612.0" r="2.8"/><circle cx="568.9" cy="610.1" r="2.8"/><circle cx="556.4" cy="604.4" r="2.8"/><circle cx="573.8" cy="603.2" r="2.8"/><circle cx="578.3" cy="597.9" r="2.8"/><circle cx="559.5" cy="595.7" r="2.8"/><circle cx="565.3" cy="590.5" r="2.8"/><circle cx="553.8" cy="586.2" r="2.8"/><circle cx="566.6" cy="582.2" r="2.8"/><circle cx="580.6" cy="578.9" r="2.8"/><circle cx="552.3" cy="577.5" r="2.8"/><circle cx="539.3" cy="572.7" r="2.8"/><circle cx="579.8" cy="571.8" r="2.8"/><circle cx="539.2" cy="569.9" r="2.8"/><circle cx="567.6" cy="568.9" r="2.8"/><circle cx="562.9" cy="566.9" r="2.8"/><circle cx="555.4" cy="565.1" r="2.8"/><circle cx="578.0" cy="564.4" r="2.8"/><circle cx="543.2" cy="562.1" r="2.8"/><circle cx="548.3" cy="560.1" r="2.8"/><circle cx="573.7" cy="559.1" r="2.8"/><circle cx="538.3" cy="557.9" r="2.8"/><circle cx="549.3" cy="556.5" r="2.8"/><circle cx="545.3" cy="554.7" r="2.8"/><circle cx="556.1" cy="553.3" r="2.8"/><circle cx="569.7" cy="551.5" r="2.8"/><circle cx="579.0" cy="549.9" r="2.8"/><circle cx="548.5" cy="548.6" r="2.8"/><circle cx="538.6" cy="547.0" r="2.8"/><circle cx="569.9" cy="545.5" r="2.8"/><circle cx="577.1" cy="544.2" r="2.8"/><circle cx="538.6" cy="543.4" r="2.8"/><circle cx="564.4" cy="541.5" r="2.8"/><circle cx="563.5" cy="540.3" r="2.8"/><circle cx="561.9" cy="539.0" r="2.8"/><circle cx="565.0" cy="535.4" r="2.8"/><circle cx="550.0" cy="534.2" r="2.8"/><circle cx="576.4" cy="530.5" r="2.8"/><circle cx="547.5" cy="528.5" r="2.8"/><circle cx="578.6" cy="527.3" r="2.8"/><circle cx="578.9" cy="524.1" r="2.8"/><circle cx="573.8" cy="521.5" r="2.8"/><circle cx="554.6" cy="519.8" r="2.8"/><circle cx="578.7" cy="515.9" r="2.8"/><circle cx="547.2" cy="513.5" r="2.8"/><circle cx="708.6" cy="595.5" r="2.8"/><circle cx="735.5" cy="591.8" r="2.8"/><circle cx="716.1" cy="578.2" r="2.8"/><circle cx="749.1" cy="568.1" r="2.8"/><circle cx="743.3" cy="564.7" r="2.8"/><circle cx="743.8" cy="556.1" r="2.8"/><circle cx="744.0" cy="547.6" r="2.8"/><circle cx="722.8" cy="534.0" r="2.8"/><circle cx="729.8" cy="527.3" r="2.8"/><circle cx="747.7" cy="521.6" r="2.8"/><circle cx="728.3" cy="512.0" r="2.8"/><circle cx="748.4" cy="501.0" r="2.8"/><circle cx="743.0" cy="494.7" r="2.8"/><circle cx="729.0" cy="479.0" r="2.8"/><circle cx="730.7" cy="475.3" r="2.8"/><circle cx="730.4" cy="460.7" r="2.8"/><circle cx="719.6" cy="458.6" r="2.8"/><circle cx="723.0" cy="446.8" r="2.8"/><circle cx="726.4" cy="432.4" r="2.8"/><circle cx="730.9" cy="430.4" r="2.8"/><circle cx="745.7" cy="422.4" r="2.8"/><circle cx="728.8" cy="406.0" r="2.8"/><circle cx="732.0" cy="397.5" r="2.8"/><circle cx="738.4" cy="391.6" r="2.8"/><circle cx="742.4" cy="386.3" r="2.8"/><circle cx="749.8" cy="376.5" r="2.8"/><circle cx="739.8" cy="366.8" r="2.8"/><circle cx="733.7" cy="354.0" r="2.8"/><circle cx="738.8" cy="351.9" r="2.8"/><circle cx="713.3" cy="339.7" r="2.8"/><circle cx="739.8" cy="330.9" r="2.8"/><circle cx="717.4" cy="321.1" r="2.8"/><circle cx="745.9" cy="314.3" r="2.8"/><circle cx="745.5" cy="308.4" r="2.8"/><circle cx="735.0" cy="302.9" r="2.8"/><circle cx="748.3" cy="299.5" r="2.8"/><circle cx="710.2" cy="295.8" r="2.8"/><circle cx="711.3" cy="292.7" r="2.8"/><circle cx="729.3" cy="290.8" r="2.8"/><circle cx="716.5" cy="285.3" r="2.8"/><circle cx="709.0" cy="283.3" r="2.8"/><circle cx="749.3" cy="279.1" r="2.8"/><circle cx="726.0" cy="276.9" r="2.8"/><circle cx="744.1" cy="273.1" r="2.8"/><circle cx="720.3" cy="268.0" r="2.8"/></g>
<g stroke="#999999" fill="none"><line x1="155.5" y1="520.8" x2="155.5" y2="563.5" stroke-width="3.3"/><line x1="155.5" y1="592.1" x2="155.5" y2="632.9" stroke-width="3.3"/><rect x="126.7" y="563.5" width="57.6" height="28.6" stroke-width="3.3" stroke-linejoin="round"/><line x1="126.7" y1="574.8" x2="184.3" y2="574.8" stroke-width="6.2"/></g><g stroke="#E69F00" fill="none"><line x1="219.5" y1="661.3" x2="219.5" y2="680.0" stroke-width="3.3"/><line x1="219.5" y1="691.9" x2="219.5" y2="698.3" stroke-width="3.3"/><rect x="190.7" y="680.0" width="57.6" height="11.9" stroke-width="3.3" stroke-linejoin="round"/><line x1="190.7" y1="687.9" x2="248.3" y2="687.9" stroke-width="6.2"/></g><g stroke="#999999" fill="none"><line x1="325.5" y1="337.8" x2="325.5" y2="376.8" stroke-width="3.3"/><line x1="325.5" y1="471.2" x2="325.5" y2="610.9" stroke-width="3.3"/><rect x="296.7" y="376.8" width="57.6" height="94.3" stroke-width="3.3" stroke-linejoin="round"/><line x1="296.7" y1="404.0" x2="354.3" y2="404.0" stroke-width="6.2"/></g><g stroke="#E69F00" fill="none"><line x1="389.5" y1="550.2" x2="389.5" y2="619.0" stroke-width="3.3"/><line x1="389.5" y1="673.6" x2="389.5" y2="693.1" stroke-width="3.3"/><rect x="360.7" y="619.0" width="57.6" height="54.6" stroke-width="3.3" stroke-linejoin="round"/><line x1="360.7" y1="652.6" x2="418.3" y2="652.6" stroke-width="6.2"/></g><g stroke="#999999" fill="none"><line x1="495.5" y1="573.4" x2="495.5" y2="645.5" stroke-width="3.3"/><line x1="495.5" y1="696.2" x2="495.5" y2="698.3" stroke-width="3.3"/><rect x="466.7" y="645.5" width="57.6" height="50.7" stroke-width="3.3" stroke-linejoin="round"/><line x1="466.7" y1="683.5" x2="524.3" y2="683.5" stroke-width="6.2"/></g><g stroke="#E69F00" fill="none"><line x1="559.5" y1="513.4" x2="559.5" y2="539.8" stroke-width="3.3"/><line x1="559.5" y1="573.4" x2="559.5" y2="615.1" stroke-width="3.3"/><rect x="530.7" y="539.8" width="57.6" height="33.6" stroke-width="3.3" stroke-linejoin="round"/><line x1="530.7" y1="556.1" x2="588.3" y2="556.1" stroke-width="6.2"/></g><g stroke="#999999" fill="none"><line x1="665.5" y1="418.8" x2="665.5" y2="583.5" stroke-width="3.3"/><line x1="665.5" y1="698.3" x2="665.5" y2="698.3" stroke-width="3.3"/><rect x="636.7" y="583.5" width="57.6" height="114.8" stroke-width="3.3" stroke-linejoin="round"/><line x1="636.7" y1="680.3" x2="694.3" y2="680.3" stroke-width="6.2"/></g><g stroke="#E69F00" fill="none"><line x1="729.5" y1="268.0" x2="729.5" y2="305.2" stroke-width="3.3"/><line x1="729.5" y1="502.0" x2="729.5" y2="601.5" stroke-width="3.3"/><rect x="700.7" y="305.2" width="57.6" height="196.8" stroke-width="3.3" stroke-linejoin="round"/><line x1="700.7" y1="400.0" x2="758.3" y2="400.0" stroke-width="6.2"/></g>
<line x1="77.5" y1="698.3" x2="85.3" y2="698.3" stroke="#333" stroke-width="2.4"/><text transform="translate(71.2,707.3) scale(1,1.03)" text-anchor="end" font-size="23" fill="#4D4D4D">0</text><line x1="77.5" y1="574.8" x2="85.3" y2="574.8" stroke="#333" stroke-width="2.4"/><text transform="translate(71.2,583.8) scale(1,1.03)" text-anchor="end" font-size="23" fill="#4D4D4D">5</text><line x1="77.5" y1="451.4" x2="85.3" y2="451.4" stroke="#333" stroke-width="2.4"/><text transform="translate(71.2,460.4) scale(1,1.03)" text-anchor="end" font-size="23" fill="#4D4D4D">10</text><line x1="77.5" y1="327.9" x2="85.3" y2="327.9" stroke="#333" stroke-width="2.4"/><text transform="translate(71.2,336.9) scale(1,1.03)" text-anchor="end" font-size="23" fill="#4D4D4D">15</text><line x1="77.5" y1="204.5" x2="85.3" y2="204.5" stroke="#333" stroke-width="2.4"/><text transform="translate(71.2,213.5) scale(1,1.03)" text-anchor="end" font-size="23" fill="#4D4D4D">20</text><line x1="77.5" y1="81.0" x2="85.3" y2="81.0" stroke="#333" stroke-width="2.4"/><text transform="translate(71.2,90.0) scale(1,1.03)" text-anchor="end" font-size="23" fill="#4D4D4D">25</text><line x1="187.5" y1="729.4" x2="187.5" y2="736.3" stroke="#333" stroke-width="2.4"/><text transform="translate(188.7,759.8) scale(1,1.08)" text-anchor="middle" font-size="23" fill="#4D4D4D" font-style="italic">HNF1A</text><line x1="357.5" y1="729.4" x2="357.5" y2="736.3" stroke="#333" stroke-width="2.4"/><text transform="translate(358.7,759.8) scale(1,1.08)" text-anchor="middle" font-size="23" fill="#4D4D4D" font-style="italic">TF</text><line x1="527.5" y1="729.4" x2="527.5" y2="736.3" stroke="#333" stroke-width="2.4"/><text transform="translate(528.7,759.8) scale(1,1.08)" text-anchor="middle" font-size="23" fill="#4D4D4D" font-style="italic">IKZF1</text><line x1="697.5" y1="729.4" x2="697.5" y2="736.3" stroke="#333" stroke-width="2.4"/><text transform="translate(698.7,759.8) scale(1,1.08)" text-anchor="middle" font-size="23" fill="#4D4D4D" font-style="italic">IGHG1</text><path d="M85.3 51.2 L85.3 729.4 L801 729.4" fill="none" stroke="#000" stroke-width="2.5" stroke-linejoin="round" stroke-linecap="round"/>
<g transform="translate(24.8,479.4) rotate(-90)" font-size="29.5" fill="#000">
<text x="-1.6" y="0" letter-spacing="0.15">log</text>
<text x="38.0" y="5.7" font-size="20">2</text>
<text x="49.5" y="0">(1</text>
<path d="M83.8 -8.3 H99.4 M91.6 -0.5 V-16.1" stroke="#000" stroke-width="2.3"/>
<text x="105.2" y="0" font-size="30.5">TPM)</text>
</g>
<text x="442.5" y="792" text-anchor="middle" font-size="30" fill="#000">Gene</text>
<text x="579.5" y="97.2" font-size="30" fill="#000">Tissue</text>
<circle cx="598.6" cy="134.3" r="9.6" fill="#999999"/>
<circle cx="598.6" cy="172.2" r="9.6" fill="#E69F00"/>
<text transform="translate(632.5,142.8) scale(1,1.08)" text-anchor="start" font-size="23" fill="#000">Hepatocytes</text>
<text transform="translate(632.5,180.7) scale(1,1.08)" text-anchor="start" font-size="23" fill="#000">Plasma cells</text>
</svg>
</body></html>
